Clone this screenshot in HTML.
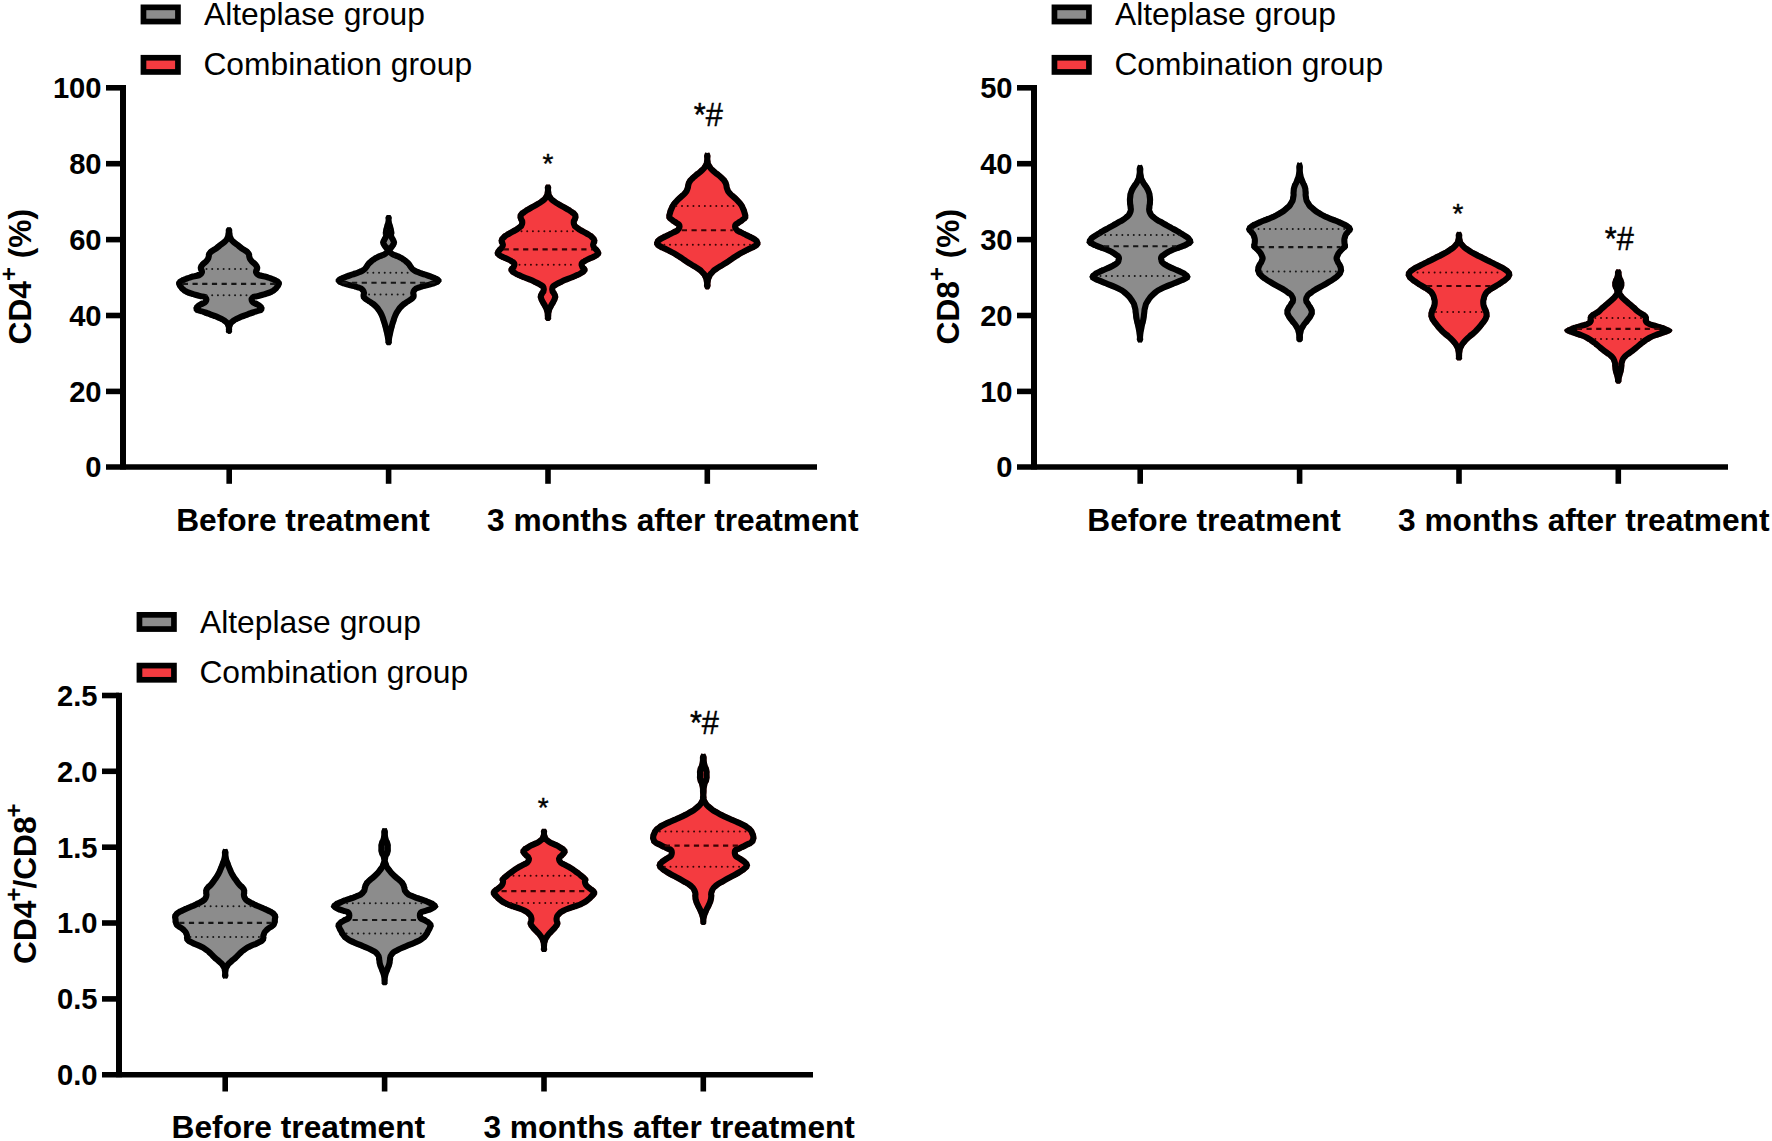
<!DOCTYPE html>
<html><head><meta charset="utf-8"><title>Violin plots</title>
<style>html,body{margin:0;padding:0;background:#fff}svg{display:block}text{font-family:"Liberation Sans",Arial,sans-serif;fill:#000}</style>
</head><body>
<svg width="1772" height="1141" viewBox="0 0 1772 1141">
<rect width="1772" height="1141" fill="#fff"/>
<path d="M123,85.0 V469.6" stroke="#000" stroke-width="6" fill="none"/><path d="M106,467 H817" stroke="#000" stroke-width="5.6" fill="none"/><path d="M106,87.8 H123" stroke="#000" stroke-width="5.6"/><path d="M106,163.7 H123" stroke="#000" stroke-width="5.6"/><path d="M106,239.6 H123" stroke="#000" stroke-width="5.6"/><path d="M106,315.5 H123" stroke="#000" stroke-width="5.6"/><path d="M106,391.4 H123" stroke="#000" stroke-width="5.6"/><path d="M229.2,467 V483.8" stroke="#000" stroke-width="5.6"/><path d="M388.6,467 V483.8" stroke="#000" stroke-width="5.6"/><path d="M548,467 V483.8" stroke="#000" stroke-width="5.6"/><path d="M707.3,467 V483.8" stroke="#000" stroke-width="5.6"/>
<path d="M1034,85.0 V469.6" stroke="#000" stroke-width="6" fill="none"/><path d="M1017,467 H1728" stroke="#000" stroke-width="5.6" fill="none"/><path d="M1017,87.8 H1034" stroke="#000" stroke-width="5.6"/><path d="M1017,163.7 H1034" stroke="#000" stroke-width="5.6"/><path d="M1017,239.6 H1034" stroke="#000" stroke-width="5.6"/><path d="M1017,315.5 H1034" stroke="#000" stroke-width="5.6"/><path d="M1017,391.4 H1034" stroke="#000" stroke-width="5.6"/><path d="M1140.2,467 V483.8" stroke="#000" stroke-width="5.6"/><path d="M1299.6,467 V483.8" stroke="#000" stroke-width="5.6"/><path d="M1459,467 V483.8" stroke="#000" stroke-width="5.6"/><path d="M1618.3,467 V483.8" stroke="#000" stroke-width="5.6"/>
<path d="M119,692.7 V1077.3" stroke="#000" stroke-width="6" fill="none"/><path d="M102,1074.7 H813" stroke="#000" stroke-width="5.6" fill="none"/><path d="M102,695.5 H119" stroke="#000" stroke-width="5.6"/><path d="M102,771.3 H119" stroke="#000" stroke-width="5.6"/><path d="M102,847.2 H119" stroke="#000" stroke-width="5.6"/><path d="M102,923 H119" stroke="#000" stroke-width="5.6"/><path d="M102,998.9 H119" stroke="#000" stroke-width="5.6"/><path d="M225.2,1074.7 V1091.5" stroke="#000" stroke-width="5.6"/><path d="M384.6,1074.7 V1091.5" stroke="#000" stroke-width="5.6"/><path d="M544,1074.7 V1091.5" stroke="#000" stroke-width="5.6"/><path d="M703.3,1074.7 V1091.5" stroke="#000" stroke-width="5.6"/>
<rect x="143.45" y="7.35" width="34.5" height="14.2" fill="#8c8c8c" stroke="#000" stroke-width="5.7"/><rect x="143.45" y="57.75" width="34.5" height="14.2" fill="#f43b40" stroke="#000" stroke-width="5.7"/><text x="204.0" y="24.8" font-size="31.8" font-weight="normal" text-anchor="start" >Alteplase group</text><text x="203.39999999999998" y="75.2" font-size="31.8" font-weight="normal" text-anchor="start" >Combination group</text>
<rect x="1054.4499999999998" y="7.35" width="34.5" height="14.2" fill="#8c8c8c" stroke="#000" stroke-width="5.7"/><rect x="1054.4499999999998" y="57.75" width="34.5" height="14.2" fill="#f43b40" stroke="#000" stroke-width="5.7"/><text x="1115.0" y="24.8" font-size="31.8" font-weight="normal" text-anchor="start" >Alteplase group</text><text x="1114.3999999999999" y="75.2" font-size="31.8" font-weight="normal" text-anchor="start" >Combination group</text>
<rect x="139.45" y="614.85" width="34.5" height="14.2" fill="#8c8c8c" stroke="#000" stroke-width="5.7"/><rect x="139.45" y="665.6" width="34.5" height="14.2" fill="#f43b40" stroke="#000" stroke-width="5.7"/><text x="200.0" y="632.9" font-size="31.8" font-weight="normal" text-anchor="start" >Alteplase group</text><text x="199.39999999999998" y="683.05" font-size="31.8" font-weight="normal" text-anchor="start" >Combination group</text>
<text x="101.6" y="98.1" font-size="29.2" font-weight="bold" text-anchor="end" >100</text><text x="101.6" y="174.0" font-size="29.2" font-weight="bold" text-anchor="end" >80</text><text x="101.6" y="249.9" font-size="29.2" font-weight="bold" text-anchor="end" >60</text><text x="101.6" y="325.8" font-size="29.2" font-weight="bold" text-anchor="end" >40</text><text x="101.6" y="401.7" font-size="29.2" font-weight="bold" text-anchor="end" >20</text><text x="101.6" y="477.3" font-size="29.2" font-weight="bold" text-anchor="end" >0</text>
<text x="1012.6" y="98.1" font-size="29.2" font-weight="bold" text-anchor="end" >50</text><text x="1012.6" y="174.0" font-size="29.2" font-weight="bold" text-anchor="end" >40</text><text x="1012.6" y="249.9" font-size="29.2" font-weight="bold" text-anchor="end" >30</text><text x="1012.6" y="325.8" font-size="29.2" font-weight="bold" text-anchor="end" >20</text><text x="1012.6" y="401.7" font-size="29.2" font-weight="bold" text-anchor="end" >10</text><text x="1012.6" y="477.3" font-size="29.2" font-weight="bold" text-anchor="end" >0</text>
<text x="97.6" y="705.8" font-size="29.2" font-weight="bold" text-anchor="end" >2.5</text><text x="97.6" y="781.5999999999999" font-size="29.2" font-weight="bold" text-anchor="end" >2.0</text><text x="97.6" y="857.5" font-size="29.2" font-weight="bold" text-anchor="end" >1.5</text><text x="97.6" y="933.3" font-size="29.2" font-weight="bold" text-anchor="end" >1.0</text><text x="97.6" y="1009.1999999999999" font-size="29.2" font-weight="bold" text-anchor="end" >0.5</text><text x="97.6" y="1085.0" font-size="29.2" font-weight="bold" text-anchor="end" >0.0</text>
<text x="176.2" y="530.5" font-size="31.7" font-weight="bold" text-anchor="start" >Before treatment</text>
<text x="487" y="530.5" font-size="31.7" font-weight="bold" text-anchor="start" >3 months after treatment</text>
<text x="1087.3" y="530.5" font-size="31.7" font-weight="bold" text-anchor="start" >Before treatment</text>
<text x="1398" y="530.5" font-size="31.7" font-weight="bold" text-anchor="start" >3 months after treatment</text>
<text x="171.6" y="1137.6" font-size="31.7" font-weight="bold" text-anchor="start" >Before treatment</text>
<text x="483.4" y="1137.6" font-size="31.7" font-weight="bold" text-anchor="start" >3 months after treatment</text>
<text transform="translate(31.3,344.5) rotate(-90)" font-size="31.7" font-weight="bold">CD4<tspan dy="-14.3" font-size="24">+</tspan><tspan dy="14.3"> (%)</tspan></text>
<text transform="translate(959,344.5) rotate(-90)" font-size="31.7" font-weight="bold">CD8<tspan dy="-14.3" font-size="24">+</tspan><tspan dy="14.3"> (%)</tspan></text>
<text transform="translate(35.9,964.0) rotate(-90)" font-size="31.7" font-weight="bold">CD4<tspan dy="-14.3" dx="-1" font-size="24">+</tspan><tspan dy="14.3" dx="-1">/CD8</tspan><tspan dy="-14.3" dx="-1" font-size="24">+</tspan></text>
<text x="548" y="173.1" font-size="28" text-anchor="middle" stroke="#000" stroke-width="0.4">*</text>
<text x="708.3" y="126.4" font-size="33.5" text-anchor="middle" textLength="29" lengthAdjust="spacingAndGlyphs" stroke="#000" stroke-width="0.45">*#</text>
<text x="1458.0" y="223.0" font-size="28" text-anchor="middle" stroke="#000" stroke-width="0.4">*</text>
<text x="1619.3" y="250.4" font-size="33.5" text-anchor="middle" textLength="29" lengthAdjust="spacingAndGlyphs" stroke="#000" stroke-width="0.45">*#</text>
<text x="543.3" y="816.9" font-size="28" text-anchor="middle" stroke="#000" stroke-width="0.4">*</text>
<text x="704.4" y="734.0" font-size="33.5" text-anchor="middle" textLength="29" lengthAdjust="spacingAndGlyphs" stroke="#000" stroke-width="0.45">*#</text>
<clipPath id="v1"><path d="M229.0,227.2 C230.8,227.2 230.6,226.7 231.7,228.6 C232.8,230.5 231.9,230.4 232.4,233.0 C232.9,235.6 232.2,234.3 233.2,236.5 C234.2,238.7 233.3,237.5 235.4,239.5 C237.5,241.5 236.8,240.5 239.4,242.6 C242.0,244.7 240.7,243.8 243.3,245.7 C245.9,247.6 245.0,246.6 247.3,248.3 C249.6,250.0 248.8,249.1 250.3,250.9 C251.8,252.7 251.2,251.8 251.9,253.6 C252.6,255.4 251.8,254.6 252.3,256.2 C252.8,257.8 252.3,256.9 253.4,258.4 C254.5,259.9 254.0,259.0 255.6,260.6 C257.2,262.2 256.8,261.4 258.2,263.2 C259.6,265.0 259.1,264.1 259.8,265.9 C260.5,267.7 260.2,267.0 260.2,268.5 C260.2,270.0 259.9,269.3 259.7,270.5 C259.5,271.7 258.5,271.3 259.6,272.1 C260.7,272.9 260.0,272.2 263.0,273.0 C266.0,273.8 264.9,273.2 268.6,274.4 C272.3,275.6 270.9,275.1 274.2,276.5 C277.5,277.9 276.2,277.2 278.4,278.6 C280.6,280.0 279.6,279.2 280.8,280.7 C282.0,282.2 281.8,281.4 281.9,283.1 C282.0,284.8 282.0,284.0 281.2,285.9 C280.4,287.8 280.8,286.8 279.4,288.8 C278.0,290.7 279.2,289.7 277.0,291.6 C274.8,293.5 276.1,292.8 272.8,294.4 C269.5,296.0 270.9,295.2 267.2,296.5 C263.5,297.8 264.9,297.3 261.6,298.2 C258.3,299.1 259.6,298.7 257.4,299.3 C255.1,299.9 254.4,299.3 254.9,300.1 C255.4,300.9 256.3,300.3 258.8,301.7 C261.2,303.1 260.6,302.6 262.3,304.2 C264.1,305.8 263.3,305.0 264.0,306.6 C264.7,308.2 264.7,307.3 264.4,309.1 C264.1,310.9 264.6,310.4 263.0,311.9 C261.4,313.4 262.5,312.4 259.4,313.6 C256.4,314.8 258.0,314.0 253.8,315.4 C249.6,316.8 251.5,316.1 246.8,317.9 C242.1,319.7 243.8,318.8 239.8,320.7 C235.8,322.6 237.3,321.5 234.9,323.5 C232.5,325.5 233.4,324.4 232.5,326.6 C231.6,328.8 232.4,328.1 232.1,330.1 C231.8,332.1 232.7,331.3 231.7,332.6 C230.7,333.9 230.8,334.0 229.0,334.0 C227.2,334.0 227.3,333.9 226.3,332.6 C225.3,331.3 226.2,332.1 225.9,330.1 C225.6,328.1 226.4,328.8 225.5,326.6 C224.6,324.4 225.5,325.5 223.1,323.5 C220.7,321.5 222.2,322.6 218.2,320.7 C214.2,318.8 215.9,319.7 211.2,317.9 C206.5,316.1 208.4,316.8 204.2,315.4 C200.0,314.0 201.6,314.8 198.6,313.6 C195.5,312.4 196.7,313.4 195.0,311.9 C193.3,310.4 193.9,310.9 193.6,309.1 C193.3,307.3 193.3,308.2 194.0,306.6 C194.7,305.0 193.9,305.8 195.7,304.2 C197.4,302.6 196.8,303.1 199.2,301.7 C201.7,300.3 202.6,300.9 203.1,300.1 C203.6,299.3 202.9,299.9 200.7,299.3 C198.4,298.7 199.7,299.1 196.4,298.2 C193.1,297.3 194.5,297.8 190.8,296.5 C187.1,295.2 188.5,296.0 185.2,294.4 C181.9,292.8 183.2,293.5 181.0,291.6 C178.8,289.7 180.0,290.7 178.6,288.8 C177.2,286.8 177.6,287.8 176.8,285.9 C176.0,284.0 176.0,284.8 176.1,283.1 C176.2,281.4 176.0,282.2 177.2,280.7 C178.4,279.2 177.4,280.0 179.6,278.6 C181.8,277.2 180.5,277.9 183.8,276.5 C187.1,275.1 185.7,275.6 189.4,274.4 C193.1,273.2 192.0,273.8 195.0,273.0 C198.0,272.2 197.3,272.9 198.4,272.1 C199.5,271.3 198.5,271.7 198.3,270.5 C198.1,269.3 197.8,270.0 197.8,268.5 C197.8,267.0 197.5,267.7 198.2,265.9 C198.9,264.1 198.4,265.0 199.8,263.2 C201.2,261.4 200.8,262.2 202.4,260.6 C204.0,259.0 203.5,259.9 204.6,258.4 C205.7,256.9 205.2,257.8 205.7,256.2 C206.2,254.6 205.4,255.4 206.1,253.6 C206.8,251.8 206.2,252.7 207.7,250.9 C209.2,249.1 208.4,250.0 210.7,248.3 C213.0,246.6 212.1,247.6 214.7,245.7 C217.3,243.8 216.0,244.7 218.6,242.6 C221.2,240.5 220.5,241.5 222.6,239.5 C224.7,237.5 223.8,238.7 224.8,236.5 C225.8,234.3 225.1,235.6 225.6,233.0 C226.1,230.4 225.2,230.5 226.3,228.6 C227.4,226.7 227.2,227.2 229.0,227.2Z"/></clipPath><path d="M229.0,227.2 C230.8,227.2 230.6,226.7 231.7,228.6 C232.8,230.5 231.9,230.4 232.4,233.0 C232.9,235.6 232.2,234.3 233.2,236.5 C234.2,238.7 233.3,237.5 235.4,239.5 C237.5,241.5 236.8,240.5 239.4,242.6 C242.0,244.7 240.7,243.8 243.3,245.7 C245.9,247.6 245.0,246.6 247.3,248.3 C249.6,250.0 248.8,249.1 250.3,250.9 C251.8,252.7 251.2,251.8 251.9,253.6 C252.6,255.4 251.8,254.6 252.3,256.2 C252.8,257.8 252.3,256.9 253.4,258.4 C254.5,259.9 254.0,259.0 255.6,260.6 C257.2,262.2 256.8,261.4 258.2,263.2 C259.6,265.0 259.1,264.1 259.8,265.9 C260.5,267.7 260.2,267.0 260.2,268.5 C260.2,270.0 259.9,269.3 259.7,270.5 C259.5,271.7 258.5,271.3 259.6,272.1 C260.7,272.9 260.0,272.2 263.0,273.0 C266.0,273.8 264.9,273.2 268.6,274.4 C272.3,275.6 270.9,275.1 274.2,276.5 C277.5,277.9 276.2,277.2 278.4,278.6 C280.6,280.0 279.6,279.2 280.8,280.7 C282.0,282.2 281.8,281.4 281.9,283.1 C282.0,284.8 282.0,284.0 281.2,285.9 C280.4,287.8 280.8,286.8 279.4,288.8 C278.0,290.7 279.2,289.7 277.0,291.6 C274.8,293.5 276.1,292.8 272.8,294.4 C269.5,296.0 270.9,295.2 267.2,296.5 C263.5,297.8 264.9,297.3 261.6,298.2 C258.3,299.1 259.6,298.7 257.4,299.3 C255.1,299.9 254.4,299.3 254.9,300.1 C255.4,300.9 256.3,300.3 258.8,301.7 C261.2,303.1 260.6,302.6 262.3,304.2 C264.1,305.8 263.3,305.0 264.0,306.6 C264.7,308.2 264.7,307.3 264.4,309.1 C264.1,310.9 264.6,310.4 263.0,311.9 C261.4,313.4 262.5,312.4 259.4,313.6 C256.4,314.8 258.0,314.0 253.8,315.4 C249.6,316.8 251.5,316.1 246.8,317.9 C242.1,319.7 243.8,318.8 239.8,320.7 C235.8,322.6 237.3,321.5 234.9,323.5 C232.5,325.5 233.4,324.4 232.5,326.6 C231.6,328.8 232.4,328.1 232.1,330.1 C231.8,332.1 232.7,331.3 231.7,332.6 C230.7,333.9 230.8,334.0 229.0,334.0 C227.2,334.0 227.3,333.9 226.3,332.6 C225.3,331.3 226.2,332.1 225.9,330.1 C225.6,328.1 226.4,328.8 225.5,326.6 C224.6,324.4 225.5,325.5 223.1,323.5 C220.7,321.5 222.2,322.6 218.2,320.7 C214.2,318.8 215.9,319.7 211.2,317.9 C206.5,316.1 208.4,316.8 204.2,315.4 C200.0,314.0 201.6,314.8 198.6,313.6 C195.5,312.4 196.7,313.4 195.0,311.9 C193.3,310.4 193.9,310.9 193.6,309.1 C193.3,307.3 193.3,308.2 194.0,306.6 C194.7,305.0 193.9,305.8 195.7,304.2 C197.4,302.6 196.8,303.1 199.2,301.7 C201.7,300.3 202.6,300.9 203.1,300.1 C203.6,299.3 202.9,299.9 200.7,299.3 C198.4,298.7 199.7,299.1 196.4,298.2 C193.1,297.3 194.5,297.8 190.8,296.5 C187.1,295.2 188.5,296.0 185.2,294.4 C181.9,292.8 183.2,293.5 181.0,291.6 C178.8,289.7 180.0,290.7 178.6,288.8 C177.2,286.8 177.6,287.8 176.8,285.9 C176.0,284.0 176.0,284.8 176.1,283.1 C176.2,281.4 176.0,282.2 177.2,280.7 C178.4,279.2 177.4,280.0 179.6,278.6 C181.8,277.2 180.5,277.9 183.8,276.5 C187.1,275.1 185.7,275.6 189.4,274.4 C193.1,273.2 192.0,273.8 195.0,273.0 C198.0,272.2 197.3,272.9 198.4,272.1 C199.5,271.3 198.5,271.7 198.3,270.5 C198.1,269.3 197.8,270.0 197.8,268.5 C197.8,267.0 197.5,267.7 198.2,265.9 C198.9,264.1 198.4,265.0 199.8,263.2 C201.2,261.4 200.8,262.2 202.4,260.6 C204.0,259.0 203.5,259.9 204.6,258.4 C205.7,256.9 205.2,257.8 205.7,256.2 C206.2,254.6 205.4,255.4 206.1,253.6 C206.8,251.8 206.2,252.7 207.7,250.9 C209.2,249.1 208.4,250.0 210.7,248.3 C213.0,246.6 212.1,247.6 214.7,245.7 C217.3,243.8 216.0,244.7 218.6,242.6 C221.2,240.5 220.5,241.5 222.6,239.5 C224.7,237.5 223.8,238.7 224.8,236.5 C225.8,234.3 225.1,235.6 225.6,233.0 C226.1,230.4 225.2,230.5 226.3,228.6 C227.4,226.7 227.2,227.2 229.0,227.2Z" fill="#8c8c8c" stroke="#000" stroke-width="12.2" stroke-linejoin="round" clip-path="url(#v1)"/><path d="M206.5,268.9 H251.5" stroke="#161616" stroke-width="2.0" stroke-dasharray="0.01,5.7" stroke-linecap="round" fill="none"/><path d="M182.8,283.9 H275.2" stroke="#161616" stroke-width="2.1" stroke-dasharray="5.2,4.5" fill="none"/><path d="M206.5,295.2 H251.5" stroke="#161616" stroke-width="2.0" stroke-dasharray="0.01,5.7" stroke-linecap="round" fill="none"/>
<clipPath id="v2"><path d="M388.6,215.1 C390.4,215.1 390.3,214.6 391.4,216.6 C392.4,218.6 391.1,218.2 391.7,221.2 C392.2,224.2 392.1,222.4 392.9,225.5 C393.7,228.6 393.6,227.7 394.1,230.4 C394.6,233.1 394.4,231.9 394.4,233.5 C394.4,235.1 393.7,233.7 394.1,235.3 C394.5,236.9 394.7,236.4 395.7,238.4 C396.6,240.4 396.5,239.8 396.9,241.4 C397.3,243.0 397.3,241.6 396.9,243.3 C396.5,245.0 396.8,244.4 395.7,246.4 C394.5,248.4 394.4,248.0 393.5,249.4 C392.6,250.8 392.0,249.7 392.9,250.7 C393.8,251.7 393.7,251.3 396.3,252.5 C398.9,253.7 397.7,252.9 400.6,254.3 C403.5,255.7 402.3,255.1 404.9,256.8 C407.5,258.5 406.4,257.7 408.5,259.5 C410.6,261.3 409.7,260.3 411.3,262.3 C412.9,264.3 411.9,263.6 413.4,265.4 C414.9,267.2 413.6,266.4 415.9,267.8 C418.2,269.2 416.7,268.4 420.2,269.7 C423.7,271.0 422.2,270.4 426.3,271.8 C430.4,273.2 428.8,272.6 432.5,274.0 C436.2,275.4 434.8,274.7 437.4,276.1 C440.0,277.5 439.0,276.9 440.4,278.3 C441.8,279.7 441.4,278.9 441.5,280.3 C441.6,281.7 442.1,280.8 440.7,282.4 C439.3,284.0 440.6,283.5 437.4,285.1 C434.2,286.7 435.3,286.1 431.2,287.3 C427.1,288.5 428.8,287.8 425.1,288.8 C421.4,289.8 423.0,289.3 420.2,290.3 C417.4,291.3 418.0,290.5 416.8,291.9 C415.6,293.3 416.7,292.9 416.6,294.6 C416.5,296.3 416.9,295.5 416.5,297.1 C416.1,298.7 416.9,297.7 415.3,299.5 C413.7,301.3 414.3,300.6 411.6,302.6 C408.9,304.6 410.0,303.5 407.3,305.4 C404.6,307.3 405.7,306.3 403.6,308.4 C401.5,310.5 402.6,309.2 400.9,311.8 C399.2,314.4 399.8,313.0 398.4,316.1 C397.0,319.2 397.8,317.3 396.6,321.0 C395.4,324.7 395.8,323.1 394.7,327.2 C393.6,331.3 394.1,329.2 393.2,333.3 C392.3,337.4 392.6,335.9 392.0,339.4 C391.4,342.9 392.5,341.8 391.4,343.7 C390.2,345.6 390.4,345.2 388.6,345.2 C386.8,345.2 387.0,345.6 385.9,343.7 C384.7,341.8 385.8,342.9 385.2,339.4 C384.6,335.9 384.9,337.4 384.0,333.3 C383.1,329.2 383.6,331.3 382.5,327.2 C381.4,323.1 381.8,324.7 380.6,321.0 C379.4,317.3 380.2,319.2 378.8,316.1 C377.4,313.0 378.0,314.4 376.3,311.8 C374.6,309.2 375.7,310.5 373.6,308.4 C371.5,306.3 372.6,307.3 369.9,305.4 C367.2,303.5 368.3,304.6 365.6,302.6 C362.9,300.6 363.5,301.3 361.9,299.5 C360.3,297.7 361.1,298.7 360.7,297.1 C360.3,295.5 360.7,296.3 360.6,294.6 C360.5,292.9 361.6,293.3 360.4,291.9 C359.2,290.5 359.8,291.3 357.0,290.3 C354.2,289.3 355.8,289.8 352.1,288.8 C348.4,287.8 350.1,288.5 346.0,287.3 C341.9,286.1 343.0,286.7 339.8,285.1 C336.6,283.5 337.9,284.0 336.5,282.4 C335.1,280.8 335.6,281.7 335.7,280.3 C335.8,278.9 335.4,279.7 336.8,278.3 C338.2,276.9 337.2,277.5 339.8,276.1 C342.4,274.7 341.0,275.4 344.7,274.0 C348.4,272.6 346.8,273.2 350.9,271.8 C355.0,270.4 353.5,271.0 357.0,269.7 C360.5,268.4 359.0,269.2 361.3,267.8 C363.6,266.4 362.3,267.2 363.8,265.4 C365.3,263.6 364.3,264.3 365.9,262.3 C367.5,260.3 366.6,261.3 368.7,259.5 C370.8,257.7 369.7,258.5 372.3,256.8 C374.9,255.1 373.7,255.7 376.6,254.3 C379.5,252.9 378.3,253.7 380.9,252.5 C383.5,251.3 383.4,251.7 384.3,250.7 C385.2,249.7 384.6,250.8 383.7,249.4 C382.8,248.0 382.7,248.4 381.6,246.4 C380.4,244.4 380.7,245.0 380.3,243.3 C379.9,241.6 379.9,243.0 380.3,241.4 C380.7,239.8 380.6,240.4 381.6,238.4 C382.5,236.4 382.7,236.9 383.1,235.3 C383.5,233.7 382.8,235.1 382.8,233.5 C382.8,231.9 382.6,233.1 383.1,230.4 C383.6,227.7 383.5,228.6 384.3,225.5 C385.1,222.4 385.0,224.2 385.5,221.2 C386.1,218.2 384.8,218.6 385.9,216.6 C386.9,214.6 386.8,215.1 388.6,215.1Z"/></clipPath><path d="M388.6,215.1 C390.4,215.1 390.3,214.6 391.4,216.6 C392.4,218.6 391.1,218.2 391.7,221.2 C392.2,224.2 392.1,222.4 392.9,225.5 C393.7,228.6 393.6,227.7 394.1,230.4 C394.6,233.1 394.4,231.9 394.4,233.5 C394.4,235.1 393.7,233.7 394.1,235.3 C394.5,236.9 394.7,236.4 395.7,238.4 C396.6,240.4 396.5,239.8 396.9,241.4 C397.3,243.0 397.3,241.6 396.9,243.3 C396.5,245.0 396.8,244.4 395.7,246.4 C394.5,248.4 394.4,248.0 393.5,249.4 C392.6,250.8 392.0,249.7 392.9,250.7 C393.8,251.7 393.7,251.3 396.3,252.5 C398.9,253.7 397.7,252.9 400.6,254.3 C403.5,255.7 402.3,255.1 404.9,256.8 C407.5,258.5 406.4,257.7 408.5,259.5 C410.6,261.3 409.7,260.3 411.3,262.3 C412.9,264.3 411.9,263.6 413.4,265.4 C414.9,267.2 413.6,266.4 415.9,267.8 C418.2,269.2 416.7,268.4 420.2,269.7 C423.7,271.0 422.2,270.4 426.3,271.8 C430.4,273.2 428.8,272.6 432.5,274.0 C436.2,275.4 434.8,274.7 437.4,276.1 C440.0,277.5 439.0,276.9 440.4,278.3 C441.8,279.7 441.4,278.9 441.5,280.3 C441.6,281.7 442.1,280.8 440.7,282.4 C439.3,284.0 440.6,283.5 437.4,285.1 C434.2,286.7 435.3,286.1 431.2,287.3 C427.1,288.5 428.8,287.8 425.1,288.8 C421.4,289.8 423.0,289.3 420.2,290.3 C417.4,291.3 418.0,290.5 416.8,291.9 C415.6,293.3 416.7,292.9 416.6,294.6 C416.5,296.3 416.9,295.5 416.5,297.1 C416.1,298.7 416.9,297.7 415.3,299.5 C413.7,301.3 414.3,300.6 411.6,302.6 C408.9,304.6 410.0,303.5 407.3,305.4 C404.6,307.3 405.7,306.3 403.6,308.4 C401.5,310.5 402.6,309.2 400.9,311.8 C399.2,314.4 399.8,313.0 398.4,316.1 C397.0,319.2 397.8,317.3 396.6,321.0 C395.4,324.7 395.8,323.1 394.7,327.2 C393.6,331.3 394.1,329.2 393.2,333.3 C392.3,337.4 392.6,335.9 392.0,339.4 C391.4,342.9 392.5,341.8 391.4,343.7 C390.2,345.6 390.4,345.2 388.6,345.2 C386.8,345.2 387.0,345.6 385.9,343.7 C384.7,341.8 385.8,342.9 385.2,339.4 C384.6,335.9 384.9,337.4 384.0,333.3 C383.1,329.2 383.6,331.3 382.5,327.2 C381.4,323.1 381.8,324.7 380.6,321.0 C379.4,317.3 380.2,319.2 378.8,316.1 C377.4,313.0 378.0,314.4 376.3,311.8 C374.6,309.2 375.7,310.5 373.6,308.4 C371.5,306.3 372.6,307.3 369.9,305.4 C367.2,303.5 368.3,304.6 365.6,302.6 C362.9,300.6 363.5,301.3 361.9,299.5 C360.3,297.7 361.1,298.7 360.7,297.1 C360.3,295.5 360.7,296.3 360.6,294.6 C360.5,292.9 361.6,293.3 360.4,291.9 C359.2,290.5 359.8,291.3 357.0,290.3 C354.2,289.3 355.8,289.8 352.1,288.8 C348.4,287.8 350.1,288.5 346.0,287.3 C341.9,286.1 343.0,286.7 339.8,285.1 C336.6,283.5 337.9,284.0 336.5,282.4 C335.1,280.8 335.6,281.7 335.7,280.3 C335.8,278.9 335.4,279.7 336.8,278.3 C338.2,276.9 337.2,277.5 339.8,276.1 C342.4,274.7 341.0,275.4 344.7,274.0 C348.4,272.6 346.8,273.2 350.9,271.8 C355.0,270.4 353.5,271.0 357.0,269.7 C360.5,268.4 359.0,269.2 361.3,267.8 C363.6,266.4 362.3,267.2 363.8,265.4 C365.3,263.6 364.3,264.3 365.9,262.3 C367.5,260.3 366.6,261.3 368.7,259.5 C370.8,257.7 369.7,258.5 372.3,256.8 C374.9,255.1 373.7,255.7 376.6,254.3 C379.5,252.9 378.3,253.7 380.9,252.5 C383.5,251.3 383.4,251.7 384.3,250.7 C385.2,249.7 384.6,250.8 383.7,249.4 C382.8,248.0 382.7,248.4 381.6,246.4 C380.4,244.4 380.7,245.0 380.3,243.3 C379.9,241.6 379.9,243.0 380.3,241.4 C380.7,239.8 380.6,240.4 381.6,238.4 C382.5,236.4 382.7,236.9 383.1,235.3 C383.5,233.7 382.8,235.1 382.8,233.5 C382.8,231.9 382.6,233.1 383.1,230.4 C383.6,227.7 383.5,228.6 384.3,225.5 C385.1,222.4 385.0,224.2 385.5,221.2 C386.1,218.2 384.8,218.6 385.9,216.6 C386.9,214.6 386.8,215.1 388.6,215.1Z" fill="#8c8c8c" stroke="#000" stroke-width="12.2" stroke-linejoin="round" clip-path="url(#v2)"/><path d="M367.6,272.8 H409.6" stroke="#161616" stroke-width="2.0" stroke-dasharray="0.01,5.7" stroke-linecap="round" fill="none"/><path d="M342.3,282.7 H434.9" stroke="#161616" stroke-width="2.1" stroke-dasharray="5.2,4.5" fill="none"/><path d="M369.1,294.4 H408.1" stroke="#161616" stroke-width="2.0" stroke-dasharray="0.01,5.7" stroke-linecap="round" fill="none"/>
<clipPath id="v3"><path d="M548.0,184.6 C549.9,184.6 549.7,183.8 550.8,186.0 C551.9,188.2 550.6,188.1 551.2,191.2 C551.8,194.3 550.9,192.8 552.5,195.4 C554.1,198.0 553.0,196.6 556.0,198.9 C559.0,201.2 557.6,200.1 561.6,202.4 C565.6,204.7 563.9,203.5 567.9,205.9 C571.9,208.3 570.5,207.3 573.5,209.5 C576.5,211.7 575.4,210.3 577.0,212.6 C578.7,214.9 578.2,214.0 578.5,216.5 C578.7,219.0 578.3,217.8 577.8,220.0 C577.2,222.2 576.4,221.2 576.9,223.1 C577.4,225.0 576.6,223.6 579.2,225.6 C581.8,227.6 581.1,226.9 584.8,229.1 C588.5,231.3 587.1,230.1 590.4,232.2 C593.7,234.3 592.4,233.2 594.6,235.4 C596.8,237.6 596.1,236.6 597.0,238.9 C597.9,241.2 597.4,240.3 597.2,242.4 C597.0,244.5 595.8,243.3 596.3,245.2 C596.8,247.1 597.3,245.9 598.8,248.0 C600.3,250.1 600.1,249.5 600.9,251.5 C601.7,253.5 601.6,252.4 601.2,254.0 C600.8,255.6 601.5,254.6 599.8,256.3 C598.1,258.0 599.1,257.3 596.0,259.1 C592.9,260.9 593.7,260.1 590.4,261.6 C587.1,263.1 588.1,262.5 586.2,263.7 C584.3,264.9 584.6,263.8 584.8,265.1 C585.0,266.4 586.0,265.9 586.9,267.5 C587.8,269.1 587.7,268.4 587.6,270.0 C587.5,271.6 588.1,270.5 586.5,272.4 C584.9,274.3 586.1,273.5 582.7,275.6 C579.3,277.7 580.8,276.8 576.4,278.8 C571.9,280.8 574.0,279.6 569.3,281.6 C564.6,283.6 566.3,282.8 562.3,284.7 C558.3,286.6 559.7,285.7 557.4,287.2 C555.1,288.7 555.5,287.7 555.3,289.3 C555.1,290.9 555.8,290.0 556.7,292.1 C557.6,294.2 557.7,293.3 558.1,295.6 C558.5,297.9 558.5,296.5 557.8,299.1 C557.1,301.7 557.4,300.5 556.0,303.3 C554.6,306.1 555.0,304.7 553.6,307.5 C552.2,310.3 552.6,308.7 551.8,311.7 C551.0,314.7 551.5,314.0 551.2,316.6 C550.9,319.2 551.9,318.0 550.8,319.4 C549.7,320.8 549.9,320.9 548.0,320.9 C546.1,320.9 546.3,320.8 545.2,319.4 C544.1,318.0 545.1,319.2 544.8,316.6 C544.5,314.0 545.0,314.7 544.2,311.7 C543.4,308.7 543.8,310.3 542.4,307.5 C541.0,304.7 541.4,306.1 540.0,303.3 C538.6,300.5 538.9,301.7 538.2,299.1 C537.5,296.5 537.5,297.9 537.9,295.6 C538.3,293.3 538.4,294.2 539.3,292.1 C540.2,290.0 540.9,290.9 540.7,289.3 C540.5,287.7 540.9,288.7 538.6,287.2 C536.3,285.7 537.7,286.6 533.7,284.7 C529.7,282.8 531.4,283.6 526.7,281.6 C522.0,279.6 524.1,280.8 519.6,278.8 C515.2,276.8 516.7,277.7 513.3,275.6 C509.9,273.5 511.1,274.3 509.5,272.4 C507.9,270.5 508.5,271.6 508.4,270.0 C508.3,268.4 508.2,269.1 509.1,267.5 C510.0,265.9 511.0,266.4 511.2,265.1 C511.4,263.8 511.7,264.9 509.8,263.7 C507.9,262.5 508.9,263.1 505.6,261.6 C502.3,260.1 503.1,260.9 500.0,259.1 C496.9,257.3 497.9,258.0 496.2,256.3 C494.5,254.6 495.2,255.6 494.8,254.0 C494.4,252.4 494.3,253.5 495.1,251.5 C495.9,249.5 495.7,250.1 497.2,248.0 C498.7,245.9 499.2,247.1 499.7,245.2 C500.2,243.3 499.0,244.5 498.8,242.4 C498.6,240.3 498.1,241.2 499.0,238.9 C499.9,236.6 499.2,237.6 501.4,235.4 C503.6,233.2 502.3,234.3 505.6,232.2 C508.9,230.1 507.5,231.3 511.2,229.1 C514.9,226.9 514.2,227.6 516.8,225.6 C519.4,223.6 518.6,225.0 519.1,223.1 C519.6,221.2 518.8,222.2 518.2,220.0 C517.7,217.8 517.3,219.0 517.5,216.5 C517.8,214.0 517.3,214.9 519.0,212.6 C520.6,210.3 519.5,211.7 522.5,209.5 C525.5,207.3 524.1,208.3 528.1,205.9 C532.1,203.5 530.4,204.7 534.4,202.4 C538.4,200.1 537.0,201.2 540.0,198.9 C543.0,196.6 541.9,198.0 543.5,195.4 C545.1,192.8 544.2,194.3 544.8,191.2 C545.4,188.1 544.1,188.2 545.2,186.0 C546.3,183.8 546.1,184.6 548.0,184.6Z"/></clipPath><path d="M548.0,184.6 C549.9,184.6 549.7,183.8 550.8,186.0 C551.9,188.2 550.6,188.1 551.2,191.2 C551.8,194.3 550.9,192.8 552.5,195.4 C554.1,198.0 553.0,196.6 556.0,198.9 C559.0,201.2 557.6,200.1 561.6,202.4 C565.6,204.7 563.9,203.5 567.9,205.9 C571.9,208.3 570.5,207.3 573.5,209.5 C576.5,211.7 575.4,210.3 577.0,212.6 C578.7,214.9 578.2,214.0 578.5,216.5 C578.7,219.0 578.3,217.8 577.8,220.0 C577.2,222.2 576.4,221.2 576.9,223.1 C577.4,225.0 576.6,223.6 579.2,225.6 C581.8,227.6 581.1,226.9 584.8,229.1 C588.5,231.3 587.1,230.1 590.4,232.2 C593.7,234.3 592.4,233.2 594.6,235.4 C596.8,237.6 596.1,236.6 597.0,238.9 C597.9,241.2 597.4,240.3 597.2,242.4 C597.0,244.5 595.8,243.3 596.3,245.2 C596.8,247.1 597.3,245.9 598.8,248.0 C600.3,250.1 600.1,249.5 600.9,251.5 C601.7,253.5 601.6,252.4 601.2,254.0 C600.8,255.6 601.5,254.6 599.8,256.3 C598.1,258.0 599.1,257.3 596.0,259.1 C592.9,260.9 593.7,260.1 590.4,261.6 C587.1,263.1 588.1,262.5 586.2,263.7 C584.3,264.9 584.6,263.8 584.8,265.1 C585.0,266.4 586.0,265.9 586.9,267.5 C587.8,269.1 587.7,268.4 587.6,270.0 C587.5,271.6 588.1,270.5 586.5,272.4 C584.9,274.3 586.1,273.5 582.7,275.6 C579.3,277.7 580.8,276.8 576.4,278.8 C571.9,280.8 574.0,279.6 569.3,281.6 C564.6,283.6 566.3,282.8 562.3,284.7 C558.3,286.6 559.7,285.7 557.4,287.2 C555.1,288.7 555.5,287.7 555.3,289.3 C555.1,290.9 555.8,290.0 556.7,292.1 C557.6,294.2 557.7,293.3 558.1,295.6 C558.5,297.9 558.5,296.5 557.8,299.1 C557.1,301.7 557.4,300.5 556.0,303.3 C554.6,306.1 555.0,304.7 553.6,307.5 C552.2,310.3 552.6,308.7 551.8,311.7 C551.0,314.7 551.5,314.0 551.2,316.6 C550.9,319.2 551.9,318.0 550.8,319.4 C549.7,320.8 549.9,320.9 548.0,320.9 C546.1,320.9 546.3,320.8 545.2,319.4 C544.1,318.0 545.1,319.2 544.8,316.6 C544.5,314.0 545.0,314.7 544.2,311.7 C543.4,308.7 543.8,310.3 542.4,307.5 C541.0,304.7 541.4,306.1 540.0,303.3 C538.6,300.5 538.9,301.7 538.2,299.1 C537.5,296.5 537.5,297.9 537.9,295.6 C538.3,293.3 538.4,294.2 539.3,292.1 C540.2,290.0 540.9,290.9 540.7,289.3 C540.5,287.7 540.9,288.7 538.6,287.2 C536.3,285.7 537.7,286.6 533.7,284.7 C529.7,282.8 531.4,283.6 526.7,281.6 C522.0,279.6 524.1,280.8 519.6,278.8 C515.2,276.8 516.7,277.7 513.3,275.6 C509.9,273.5 511.1,274.3 509.5,272.4 C507.9,270.5 508.5,271.6 508.4,270.0 C508.3,268.4 508.2,269.1 509.1,267.5 C510.0,265.9 511.0,266.4 511.2,265.1 C511.4,263.8 511.7,264.9 509.8,263.7 C507.9,262.5 508.9,263.1 505.6,261.6 C502.3,260.1 503.1,260.9 500.0,259.1 C496.9,257.3 497.9,258.0 496.2,256.3 C494.5,254.6 495.2,255.6 494.8,254.0 C494.4,252.4 494.3,253.5 495.1,251.5 C495.9,249.5 495.7,250.1 497.2,248.0 C498.7,245.9 499.2,247.1 499.7,245.2 C500.2,243.3 499.0,244.5 498.8,242.4 C498.6,240.3 498.1,241.2 499.0,238.9 C499.9,236.6 499.2,237.6 501.4,235.4 C503.6,233.2 502.3,234.3 505.6,232.2 C508.9,230.1 507.5,231.3 511.2,229.1 C514.9,226.9 514.2,227.6 516.8,225.6 C519.4,223.6 518.6,225.0 519.1,223.1 C519.6,221.2 518.8,222.2 518.2,220.0 C517.7,217.8 517.3,219.0 517.5,216.5 C517.8,214.0 517.3,214.9 519.0,212.6 C520.6,210.3 519.5,211.7 522.5,209.5 C525.5,207.3 524.1,208.3 528.1,205.9 C532.1,203.5 530.4,204.7 534.4,202.4 C538.4,200.1 537.0,201.2 540.0,198.9 C543.0,196.6 541.9,198.0 543.5,195.4 C545.1,192.8 544.2,194.3 544.8,191.2 C545.4,188.1 544.1,188.2 545.2,186.0 C546.3,183.8 546.1,184.6 548.0,184.6Z" fill="#f43b40" stroke="#000" stroke-width="12.2" stroke-linejoin="round" clip-path="url(#v3)"/><path d="M521.5,231.2 H574.5" stroke="#3a0404" stroke-width="2.0" stroke-dasharray="0.01,5.7" stroke-linecap="round" fill="none"/><path d="M503.7,249.4 H592.3" stroke="#3a0404" stroke-width="2.1" stroke-dasharray="5.2,4.5" fill="none"/><path d="M519.5,264.7 H576.5" stroke="#3a0404" stroke-width="2.0" stroke-dasharray="0.01,5.7" stroke-linecap="round" fill="none"/>
<clipPath id="v4"><path d="M707.3,152.9 C709.2,152.9 709.0,151.7 710.1,154.3 C711.2,156.9 709.9,157.1 710.5,160.6 C711.1,164.1 710.2,162.0 711.9,164.8 C713.6,167.6 712.8,166.3 715.7,169.0 C718.6,171.7 717.5,170.3 720.6,172.9 C723.6,175.5 722.5,174.3 724.8,176.8 C727.2,179.2 726.2,178.0 727.6,180.3 C729.1,182.7 728.3,181.2 729.1,183.8 C729.9,186.4 729.1,185.4 730.1,188.0 C731.1,190.6 730.2,189.2 732.2,191.5 C734.2,193.8 733.4,192.4 736.1,195.0 C738.8,197.6 737.7,196.4 740.3,199.2 C742.9,202.0 741.9,200.6 743.8,203.4 C745.7,206.2 744.6,204.6 745.9,207.6 C747.2,210.6 746.8,209.5 747.6,212.5 C748.4,215.5 748.4,214.1 748.3,216.5 C748.2,218.9 748.9,217.5 747.4,219.6 C745.9,221.7 746.3,220.7 743.8,222.7 C741.3,224.7 741.7,224.0 739.9,225.5 C738.1,227.0 737.7,225.9 738.5,227.3 C739.3,228.7 739.2,228.0 742.4,229.7 C745.6,231.4 744.3,230.6 748.0,232.5 C751.7,234.4 750.3,233.4 753.6,235.3 C756.9,237.2 755.7,236.2 757.8,238.1 C759.9,240.0 759.0,239.1 759.9,240.9 C760.8,242.7 760.6,241.7 760.5,243.4 C760.4,245.1 761.0,244.1 759.6,245.9 C758.2,247.7 759.3,246.8 756.4,248.7 C753.5,250.6 754.5,249.6 750.8,251.5 C747.1,253.4 748.9,252.3 745.2,254.3 C741.5,256.3 743.1,255.3 739.6,257.4 C736.1,259.5 738.0,258.4 734.7,260.6 C731.4,262.8 733.3,261.8 729.8,264.1 C726.3,266.4 727.9,265.3 724.1,267.6 C720.3,269.9 721.8,268.8 718.5,271.1 C715.2,273.4 716.5,272.3 714.3,274.6 C712.1,276.9 713.1,275.5 711.9,278.1 C710.7,280.7 711.3,279.3 710.7,282.3 C710.1,285.3 711.3,284.8 710.2,287.2 C709.1,289.6 709.2,289.4 707.3,289.4 C705.4,289.4 705.5,289.6 704.4,287.2 C703.3,284.8 704.5,285.3 703.9,282.3 C703.3,279.3 703.9,280.7 702.7,278.1 C701.5,275.5 702.5,276.9 700.3,274.6 C698.1,272.3 699.4,273.4 696.1,271.1 C692.8,268.8 694.3,269.9 690.5,267.6 C686.7,265.3 688.3,266.4 684.8,264.1 C681.3,261.8 683.2,262.8 679.9,260.6 C676.6,258.4 678.5,259.5 675.0,257.4 C671.5,255.3 673.1,256.3 669.4,254.3 C665.7,252.3 667.5,253.4 663.8,251.5 C660.1,249.6 661.1,250.6 658.2,248.7 C655.3,246.8 656.4,247.7 655.0,245.9 C653.6,244.1 654.2,245.1 654.1,243.4 C654.0,241.7 653.8,242.7 654.7,240.9 C655.6,239.1 654.7,240.0 656.8,238.1 C658.9,236.2 657.7,237.2 661.0,235.3 C664.3,233.4 662.9,234.4 666.6,232.5 C670.3,230.6 669.0,231.4 672.2,229.7 C675.4,228.0 675.3,228.7 676.1,227.3 C676.9,225.9 676.5,227.0 674.7,225.5 C672.9,224.0 673.3,224.7 670.8,222.7 C668.3,220.7 668.7,221.7 667.2,219.6 C665.7,217.5 666.4,218.9 666.3,216.5 C666.2,214.1 666.2,215.5 667.0,212.5 C667.8,209.5 667.4,210.6 668.7,207.6 C670.0,204.6 668.9,206.2 670.8,203.4 C672.7,200.6 671.7,202.0 674.3,199.2 C676.9,196.4 675.8,197.6 678.5,195.0 C681.2,192.4 680.4,193.8 682.4,191.5 C684.4,189.2 683.5,190.6 684.5,188.0 C685.5,185.4 684.7,186.4 685.5,183.8 C686.3,181.2 685.5,182.7 686.9,180.3 C688.4,178.0 687.4,179.2 689.8,176.8 C692.1,174.3 691.0,175.5 694.0,172.9 C697.0,170.3 696.0,171.7 698.9,169.0 C701.8,166.3 701.0,167.6 702.7,164.8 C704.4,162.0 703.5,164.1 704.1,160.6 C704.7,157.1 703.4,156.9 704.5,154.3 C705.6,151.7 705.4,152.9 707.3,152.9Z"/></clipPath><path d="M707.3,152.9 C709.2,152.9 709.0,151.7 710.1,154.3 C711.2,156.9 709.9,157.1 710.5,160.6 C711.1,164.1 710.2,162.0 711.9,164.8 C713.6,167.6 712.8,166.3 715.7,169.0 C718.6,171.7 717.5,170.3 720.6,172.9 C723.6,175.5 722.5,174.3 724.8,176.8 C727.2,179.2 726.2,178.0 727.6,180.3 C729.1,182.7 728.3,181.2 729.1,183.8 C729.9,186.4 729.1,185.4 730.1,188.0 C731.1,190.6 730.2,189.2 732.2,191.5 C734.2,193.8 733.4,192.4 736.1,195.0 C738.8,197.6 737.7,196.4 740.3,199.2 C742.9,202.0 741.9,200.6 743.8,203.4 C745.7,206.2 744.6,204.6 745.9,207.6 C747.2,210.6 746.8,209.5 747.6,212.5 C748.4,215.5 748.4,214.1 748.3,216.5 C748.2,218.9 748.9,217.5 747.4,219.6 C745.9,221.7 746.3,220.7 743.8,222.7 C741.3,224.7 741.7,224.0 739.9,225.5 C738.1,227.0 737.7,225.9 738.5,227.3 C739.3,228.7 739.2,228.0 742.4,229.7 C745.6,231.4 744.3,230.6 748.0,232.5 C751.7,234.4 750.3,233.4 753.6,235.3 C756.9,237.2 755.7,236.2 757.8,238.1 C759.9,240.0 759.0,239.1 759.9,240.9 C760.8,242.7 760.6,241.7 760.5,243.4 C760.4,245.1 761.0,244.1 759.6,245.9 C758.2,247.7 759.3,246.8 756.4,248.7 C753.5,250.6 754.5,249.6 750.8,251.5 C747.1,253.4 748.9,252.3 745.2,254.3 C741.5,256.3 743.1,255.3 739.6,257.4 C736.1,259.5 738.0,258.4 734.7,260.6 C731.4,262.8 733.3,261.8 729.8,264.1 C726.3,266.4 727.9,265.3 724.1,267.6 C720.3,269.9 721.8,268.8 718.5,271.1 C715.2,273.4 716.5,272.3 714.3,274.6 C712.1,276.9 713.1,275.5 711.9,278.1 C710.7,280.7 711.3,279.3 710.7,282.3 C710.1,285.3 711.3,284.8 710.2,287.2 C709.1,289.6 709.2,289.4 707.3,289.4 C705.4,289.4 705.5,289.6 704.4,287.2 C703.3,284.8 704.5,285.3 703.9,282.3 C703.3,279.3 703.9,280.7 702.7,278.1 C701.5,275.5 702.5,276.9 700.3,274.6 C698.1,272.3 699.4,273.4 696.1,271.1 C692.8,268.8 694.3,269.9 690.5,267.6 C686.7,265.3 688.3,266.4 684.8,264.1 C681.3,261.8 683.2,262.8 679.9,260.6 C676.6,258.4 678.5,259.5 675.0,257.4 C671.5,255.3 673.1,256.3 669.4,254.3 C665.7,252.3 667.5,253.4 663.8,251.5 C660.1,249.6 661.1,250.6 658.2,248.7 C655.3,246.8 656.4,247.7 655.0,245.9 C653.6,244.1 654.2,245.1 654.1,243.4 C654.0,241.7 653.8,242.7 654.7,240.9 C655.6,239.1 654.7,240.0 656.8,238.1 C658.9,236.2 657.7,237.2 661.0,235.3 C664.3,233.4 662.9,234.4 666.6,232.5 C670.3,230.6 669.0,231.4 672.2,229.7 C675.4,228.0 675.3,228.7 676.1,227.3 C676.9,225.9 676.5,227.0 674.7,225.5 C672.9,224.0 673.3,224.7 670.8,222.7 C668.3,220.7 668.7,221.7 667.2,219.6 C665.7,217.5 666.4,218.9 666.3,216.5 C666.2,214.1 666.2,215.5 667.0,212.5 C667.8,209.5 667.4,210.6 668.7,207.6 C670.0,204.6 668.9,206.2 670.8,203.4 C672.7,200.6 671.7,202.0 674.3,199.2 C676.9,196.4 675.8,197.6 678.5,195.0 C681.2,192.4 680.4,193.8 682.4,191.5 C684.4,189.2 683.5,190.6 684.5,188.0 C685.5,185.4 684.7,186.4 685.5,183.8 C686.3,181.2 685.5,182.7 686.9,180.3 C688.4,178.0 687.4,179.2 689.8,176.8 C692.1,174.3 691.0,175.5 694.0,172.9 C697.0,170.3 696.0,171.7 698.9,169.0 C701.8,166.3 701.0,167.6 702.7,164.8 C704.4,162.0 703.5,164.1 704.1,160.6 C704.7,157.1 703.4,156.9 704.5,154.3 C705.6,151.7 705.4,152.9 707.3,152.9Z" fill="#f43b40" stroke="#000" stroke-width="12.2" stroke-linejoin="round" clip-path="url(#v4)"/><path d="M676.3,206.1 H738.3" stroke="#3a0404" stroke-width="2.0" stroke-dasharray="0.01,5.7" stroke-linecap="round" fill="none"/><path d="M681.8,230.2 H732.8" stroke="#3a0404" stroke-width="2.1" stroke-dasharray="5.2,4.5" fill="none"/><path d="M664.3,244.8 H750.3" stroke="#3a0404" stroke-width="2.0" stroke-dasharray="0.01,5.7" stroke-linecap="round" fill="none"/>
<clipPath id="v5"><path d="M1140.0,165.2 C1141.9,165.2 1141.6,163.7 1142.8,166.7 C1144.0,169.7 1142.7,169.8 1143.5,174.2 C1144.3,178.6 1143.6,176.4 1145.3,180.0 C1147.0,183.6 1146.5,181.4 1148.6,185.0 C1150.7,188.6 1150.1,186.9 1151.5,190.8 C1152.9,194.7 1152.3,192.7 1152.8,196.6 C1153.3,200.5 1153.1,198.9 1153.0,202.5 C1152.9,206.1 1152.5,204.5 1152.4,207.5 C1152.3,210.5 1151.6,209.0 1152.8,211.6 C1154.0,214.2 1153.1,212.9 1156.1,215.4 C1159.1,217.9 1157.7,216.6 1161.9,219.1 C1166.1,221.6 1164.1,220.4 1168.6,222.9 C1173.1,225.4 1170.9,224.1 1175.3,226.6 C1179.7,229.1 1177.7,227.9 1181.9,230.4 C1186.1,232.9 1184.6,231.8 1187.8,234.1 C1191.0,236.4 1189.7,235.2 1191.5,237.4 C1193.3,239.6 1192.9,238.6 1193.2,240.8 C1193.5,243.0 1194.2,241.9 1192.5,243.9 C1190.8,245.9 1192.1,244.8 1188.2,246.9 C1184.3,249.0 1186.0,248.0 1180.8,250.1 C1175.6,252.2 1177.4,251.0 1172.5,253.3 C1167.6,255.6 1168.8,255.0 1166.1,257.0 C1163.4,259.0 1164.1,257.6 1164.4,259.3 C1164.7,261.0 1163.7,259.9 1167.0,262.1 C1170.3,264.3 1169.4,263.5 1174.3,265.8 C1179.2,268.1 1177.4,266.9 1181.7,269.0 C1186.0,271.1 1184.4,270.1 1187.2,272.2 C1190.0,274.3 1189.1,273.4 1190.0,275.4 C1190.9,277.4 1190.9,276.3 1190.0,278.2 C1189.1,280.1 1190.6,278.9 1187.2,280.9 C1183.8,282.9 1185.4,281.9 1179.9,284.2 C1174.4,286.5 1176.5,285.4 1170.7,287.9 C1164.9,290.3 1167.3,288.8 1162.4,291.5 C1157.5,294.2 1159.9,292.4 1155.9,296.1 C1151.9,299.8 1153.0,298.6 1150.4,302.6 C1147.8,306.6 1149.2,304.4 1148.1,308.1 C1147.0,311.8 1147.8,309.6 1147.2,313.6 C1146.6,317.6 1147.2,315.2 1146.3,320.1 C1145.4,325.0 1145.4,323.1 1144.4,328.3 C1143.4,333.5 1143.7,331.5 1143.2,335.7 C1142.7,339.9 1143.9,338.5 1142.8,340.8 C1141.7,343.1 1141.9,342.6 1140.0,342.6 C1138.1,342.6 1138.3,343.1 1137.2,340.8 C1136.1,338.5 1137.3,339.9 1136.8,335.7 C1136.3,331.5 1136.6,333.5 1135.6,328.3 C1134.6,323.1 1134.6,325.0 1133.7,320.1 C1132.8,315.2 1133.4,317.6 1132.8,313.6 C1132.2,309.6 1133.0,311.8 1131.9,308.1 C1130.8,304.4 1132.2,306.6 1129.6,302.6 C1127.0,298.6 1128.1,299.8 1124.1,296.1 C1120.1,292.4 1122.5,294.2 1117.6,291.5 C1112.7,288.8 1115.1,290.3 1109.3,287.9 C1103.5,285.4 1105.6,286.5 1100.1,284.2 C1094.6,281.9 1096.2,282.9 1092.8,280.9 C1089.4,278.9 1090.9,280.1 1090.0,278.2 C1089.1,276.3 1089.1,277.4 1090.0,275.4 C1090.9,273.4 1090.0,274.3 1092.8,272.2 C1095.6,270.1 1094.0,271.1 1098.3,269.0 C1102.6,266.9 1100.8,268.1 1105.7,265.8 C1110.6,263.5 1109.7,264.3 1113.0,262.1 C1116.3,259.9 1115.3,261.0 1115.6,259.3 C1115.9,257.6 1116.6,259.0 1113.9,257.0 C1111.2,255.0 1112.4,255.6 1107.5,253.3 C1102.6,251.0 1104.4,252.2 1099.2,250.1 C1094.0,248.0 1095.7,249.0 1091.8,246.9 C1087.9,244.8 1089.2,245.9 1087.5,243.9 C1085.8,241.9 1086.5,243.0 1086.8,240.8 C1087.1,238.6 1086.7,239.6 1088.5,237.4 C1090.3,235.2 1089.0,236.4 1092.2,234.1 C1095.4,231.8 1093.9,232.9 1098.1,230.4 C1102.3,227.9 1100.3,229.1 1104.7,226.6 C1109.1,224.1 1106.9,225.4 1111.4,222.9 C1115.9,220.4 1113.9,221.6 1118.1,219.1 C1122.3,216.6 1120.9,217.9 1123.9,215.4 C1126.9,212.9 1126.0,214.2 1127.2,211.6 C1128.4,209.0 1127.7,210.5 1127.6,207.5 C1127.5,204.5 1127.1,206.1 1127.0,202.5 C1126.9,198.9 1126.7,200.5 1127.2,196.6 C1127.7,192.7 1127.1,194.7 1128.5,190.8 C1129.9,186.9 1129.3,188.6 1131.4,185.0 C1133.5,181.4 1133.0,183.6 1134.7,180.0 C1136.4,176.4 1135.7,178.6 1136.5,174.2 C1137.3,169.8 1136.0,169.7 1137.2,166.7 C1138.4,163.7 1138.1,165.2 1140.0,165.2Z"/></clipPath><path d="M1140.0,165.2 C1141.9,165.2 1141.6,163.7 1142.8,166.7 C1144.0,169.7 1142.7,169.8 1143.5,174.2 C1144.3,178.6 1143.6,176.4 1145.3,180.0 C1147.0,183.6 1146.5,181.4 1148.6,185.0 C1150.7,188.6 1150.1,186.9 1151.5,190.8 C1152.9,194.7 1152.3,192.7 1152.8,196.6 C1153.3,200.5 1153.1,198.9 1153.0,202.5 C1152.9,206.1 1152.5,204.5 1152.4,207.5 C1152.3,210.5 1151.6,209.0 1152.8,211.6 C1154.0,214.2 1153.1,212.9 1156.1,215.4 C1159.1,217.9 1157.7,216.6 1161.9,219.1 C1166.1,221.6 1164.1,220.4 1168.6,222.9 C1173.1,225.4 1170.9,224.1 1175.3,226.6 C1179.7,229.1 1177.7,227.9 1181.9,230.4 C1186.1,232.9 1184.6,231.8 1187.8,234.1 C1191.0,236.4 1189.7,235.2 1191.5,237.4 C1193.3,239.6 1192.9,238.6 1193.2,240.8 C1193.5,243.0 1194.2,241.9 1192.5,243.9 C1190.8,245.9 1192.1,244.8 1188.2,246.9 C1184.3,249.0 1186.0,248.0 1180.8,250.1 C1175.6,252.2 1177.4,251.0 1172.5,253.3 C1167.6,255.6 1168.8,255.0 1166.1,257.0 C1163.4,259.0 1164.1,257.6 1164.4,259.3 C1164.7,261.0 1163.7,259.9 1167.0,262.1 C1170.3,264.3 1169.4,263.5 1174.3,265.8 C1179.2,268.1 1177.4,266.9 1181.7,269.0 C1186.0,271.1 1184.4,270.1 1187.2,272.2 C1190.0,274.3 1189.1,273.4 1190.0,275.4 C1190.9,277.4 1190.9,276.3 1190.0,278.2 C1189.1,280.1 1190.6,278.9 1187.2,280.9 C1183.8,282.9 1185.4,281.9 1179.9,284.2 C1174.4,286.5 1176.5,285.4 1170.7,287.9 C1164.9,290.3 1167.3,288.8 1162.4,291.5 C1157.5,294.2 1159.9,292.4 1155.9,296.1 C1151.9,299.8 1153.0,298.6 1150.4,302.6 C1147.8,306.6 1149.2,304.4 1148.1,308.1 C1147.0,311.8 1147.8,309.6 1147.2,313.6 C1146.6,317.6 1147.2,315.2 1146.3,320.1 C1145.4,325.0 1145.4,323.1 1144.4,328.3 C1143.4,333.5 1143.7,331.5 1143.2,335.7 C1142.7,339.9 1143.9,338.5 1142.8,340.8 C1141.7,343.1 1141.9,342.6 1140.0,342.6 C1138.1,342.6 1138.3,343.1 1137.2,340.8 C1136.1,338.5 1137.3,339.9 1136.8,335.7 C1136.3,331.5 1136.6,333.5 1135.6,328.3 C1134.6,323.1 1134.6,325.0 1133.7,320.1 C1132.8,315.2 1133.4,317.6 1132.8,313.6 C1132.2,309.6 1133.0,311.8 1131.9,308.1 C1130.8,304.4 1132.2,306.6 1129.6,302.6 C1127.0,298.6 1128.1,299.8 1124.1,296.1 C1120.1,292.4 1122.5,294.2 1117.6,291.5 C1112.7,288.8 1115.1,290.3 1109.3,287.9 C1103.5,285.4 1105.6,286.5 1100.1,284.2 C1094.6,281.9 1096.2,282.9 1092.8,280.9 C1089.4,278.9 1090.9,280.1 1090.0,278.2 C1089.1,276.3 1089.1,277.4 1090.0,275.4 C1090.9,273.4 1090.0,274.3 1092.8,272.2 C1095.6,270.1 1094.0,271.1 1098.3,269.0 C1102.6,266.9 1100.8,268.1 1105.7,265.8 C1110.6,263.5 1109.7,264.3 1113.0,262.1 C1116.3,259.9 1115.3,261.0 1115.6,259.3 C1115.9,257.6 1116.6,259.0 1113.9,257.0 C1111.2,255.0 1112.4,255.6 1107.5,253.3 C1102.6,251.0 1104.4,252.2 1099.2,250.1 C1094.0,248.0 1095.7,249.0 1091.8,246.9 C1087.9,244.8 1089.2,245.9 1087.5,243.9 C1085.8,241.9 1086.5,243.0 1086.8,240.8 C1087.1,238.6 1086.7,239.6 1088.5,237.4 C1090.3,235.2 1089.0,236.4 1092.2,234.1 C1095.4,231.8 1093.9,232.9 1098.1,230.4 C1102.3,227.9 1100.3,229.1 1104.7,226.6 C1109.1,224.1 1106.9,225.4 1111.4,222.9 C1115.9,220.4 1113.9,221.6 1118.1,219.1 C1122.3,216.6 1120.9,217.9 1123.9,215.4 C1126.9,212.9 1126.0,214.2 1127.2,211.6 C1128.4,209.0 1127.7,210.5 1127.6,207.5 C1127.5,204.5 1127.1,206.1 1127.0,202.5 C1126.9,198.9 1126.7,200.5 1127.2,196.6 C1127.7,192.7 1127.1,194.7 1128.5,190.8 C1129.9,186.9 1129.3,188.6 1131.4,185.0 C1133.5,181.4 1133.0,183.6 1134.7,180.0 C1136.4,176.4 1135.7,178.6 1136.5,174.2 C1137.3,169.8 1136.0,169.7 1137.2,166.7 C1138.4,163.7 1138.1,165.2 1140.0,165.2Z" fill="#8c8c8c" stroke="#000" stroke-width="12.2" stroke-linejoin="round" clip-path="url(#v5)"/><path d="M1099.5,234.9 H1180.5" stroke="#161616" stroke-width="2.0" stroke-dasharray="0.01,5.7" stroke-linecap="round" fill="none"/><path d="M1104.0,246.3 H1176.0" stroke="#161616" stroke-width="2.1" stroke-dasharray="5.2,4.5" fill="none"/><path d="M1100.5,275.9 H1179.5" stroke="#161616" stroke-width="2.0" stroke-dasharray="0.01,5.7" stroke-linecap="round" fill="none"/>
<clipPath id="v6"><path d="M1299.6,162.9 C1301.5,162.9 1301.2,160.9 1302.4,164.4 C1303.6,167.9 1302.2,168.1 1303.1,173.3 C1304.0,178.5 1303.6,175.8 1305.1,180.0 C1306.6,184.2 1306.4,181.9 1307.6,185.8 C1308.8,189.7 1308.2,188.0 1308.6,191.6 C1309.0,195.2 1308.2,193.3 1308.9,196.6 C1309.6,199.9 1308.5,198.3 1310.6,201.6 C1312.7,204.9 1311.4,203.4 1315.1,206.6 C1318.8,209.8 1317.1,208.4 1321.8,211.2 C1326.5,214.0 1324.3,212.8 1329.3,215.0 C1334.3,217.2 1332.1,216.0 1336.8,217.9 C1341.5,219.8 1339.2,218.7 1343.4,220.8 C1347.6,222.9 1346.3,221.9 1349.3,224.1 C1352.3,226.3 1351.3,225.2 1352.4,227.4 C1353.5,229.6 1353.4,228.6 1352.6,230.8 C1351.8,233.0 1351.6,231.9 1350.1,234.1 C1348.6,236.3 1348.9,234.9 1348.0,237.4 C1347.1,239.9 1347.4,238.8 1347.4,241.6 C1347.4,244.4 1348.1,243.5 1348.0,245.8 C1347.9,248.1 1348.7,246.4 1347.2,248.5 C1345.7,250.6 1345.8,249.4 1343.5,252.1 C1341.2,254.8 1341.4,254.1 1340.3,256.7 C1339.2,259.3 1339.5,257.4 1340.3,259.9 C1341.1,262.4 1341.4,261.2 1342.6,264.1 C1343.8,267.0 1343.6,265.9 1343.9,268.7 C1344.2,271.5 1344.6,269.6 1343.5,272.4 C1342.4,275.2 1343.5,273.9 1340.7,277.0 C1337.9,280.1 1339.5,278.5 1335.2,281.6 C1330.9,284.7 1333.0,283.1 1327.8,286.2 C1322.6,289.3 1324.4,287.9 1319.5,290.8 C1314.6,293.7 1316.5,292.3 1313.1,294.9 C1309.7,297.5 1310.2,296.0 1309.4,298.6 C1308.6,301.2 1309.4,299.8 1310.8,302.7 C1312.2,305.6 1312.3,304.2 1313.6,307.3 C1314.9,310.4 1314.8,308.8 1314.8,311.9 C1314.8,315.0 1315.2,313.1 1313.6,316.5 C1312.0,319.9 1312.5,318.4 1309.9,322.1 C1307.3,325.8 1307.9,323.9 1305.7,327.6 C1303.5,331.3 1304.3,329.4 1303.4,333.1 C1302.5,336.8 1303.2,336.0 1302.9,338.6 C1302.6,341.2 1303.5,339.6 1302.4,340.8 C1301.3,342.0 1301.5,342.3 1299.6,342.3 C1297.7,342.3 1297.9,342.0 1296.8,340.8 C1295.7,339.6 1296.6,341.2 1296.3,338.6 C1296.0,336.0 1296.7,336.8 1295.8,333.1 C1294.9,329.4 1295.7,331.3 1293.5,327.6 C1291.3,323.9 1291.9,325.8 1289.3,322.1 C1286.7,318.4 1287.2,319.9 1285.6,316.5 C1284.0,313.1 1284.4,315.0 1284.4,311.9 C1284.4,308.8 1284.3,310.4 1285.6,307.3 C1286.9,304.2 1287.0,305.6 1288.4,302.7 C1289.8,299.8 1290.6,301.2 1289.8,298.6 C1289.0,296.0 1289.5,297.5 1286.1,294.9 C1282.7,292.3 1284.6,293.7 1279.7,290.8 C1274.8,287.9 1276.6,289.3 1271.4,286.2 C1266.2,283.1 1268.3,284.7 1264.0,281.6 C1259.7,278.5 1261.3,280.1 1258.5,277.0 C1255.7,273.9 1256.8,275.2 1255.7,272.4 C1254.6,269.6 1255.0,271.5 1255.3,268.7 C1255.6,265.9 1255.4,267.0 1256.6,264.1 C1257.8,261.2 1258.1,262.4 1258.9,259.9 C1259.7,257.4 1260.0,259.3 1258.9,256.7 C1257.8,254.1 1258.0,254.8 1255.7,252.1 C1253.4,249.4 1253.5,250.6 1252.0,248.5 C1250.5,246.4 1251.3,248.1 1251.2,245.8 C1251.1,243.5 1251.8,244.4 1251.8,241.6 C1251.8,238.8 1252.1,239.9 1251.2,237.4 C1250.3,234.9 1250.6,236.3 1249.1,234.1 C1247.6,231.9 1247.4,233.0 1246.6,230.8 C1245.8,228.6 1245.7,229.6 1246.8,227.4 C1247.9,225.2 1246.9,226.3 1249.9,224.1 C1252.9,221.9 1251.6,222.9 1255.8,220.8 C1260.0,218.7 1257.7,219.8 1262.4,217.9 C1267.1,216.0 1264.9,217.2 1269.9,215.0 C1274.9,212.8 1272.7,214.0 1277.4,211.2 C1282.1,208.4 1280.4,209.8 1284.1,206.6 C1287.8,203.4 1286.5,204.9 1288.6,201.6 C1290.7,198.3 1289.6,199.9 1290.3,196.6 C1291.0,193.3 1290.2,195.2 1290.6,191.6 C1291.0,188.0 1290.4,189.7 1291.6,185.8 C1292.8,181.9 1292.6,184.2 1294.1,180.0 C1295.6,175.8 1295.2,178.5 1296.1,173.3 C1297.0,168.1 1295.6,167.9 1296.8,164.4 C1298.0,160.9 1297.7,162.9 1299.6,162.9Z"/></clipPath><path d="M1299.6,162.9 C1301.5,162.9 1301.2,160.9 1302.4,164.4 C1303.6,167.9 1302.2,168.1 1303.1,173.3 C1304.0,178.5 1303.6,175.8 1305.1,180.0 C1306.6,184.2 1306.4,181.9 1307.6,185.8 C1308.8,189.7 1308.2,188.0 1308.6,191.6 C1309.0,195.2 1308.2,193.3 1308.9,196.6 C1309.6,199.9 1308.5,198.3 1310.6,201.6 C1312.7,204.9 1311.4,203.4 1315.1,206.6 C1318.8,209.8 1317.1,208.4 1321.8,211.2 C1326.5,214.0 1324.3,212.8 1329.3,215.0 C1334.3,217.2 1332.1,216.0 1336.8,217.9 C1341.5,219.8 1339.2,218.7 1343.4,220.8 C1347.6,222.9 1346.3,221.9 1349.3,224.1 C1352.3,226.3 1351.3,225.2 1352.4,227.4 C1353.5,229.6 1353.4,228.6 1352.6,230.8 C1351.8,233.0 1351.6,231.9 1350.1,234.1 C1348.6,236.3 1348.9,234.9 1348.0,237.4 C1347.1,239.9 1347.4,238.8 1347.4,241.6 C1347.4,244.4 1348.1,243.5 1348.0,245.8 C1347.9,248.1 1348.7,246.4 1347.2,248.5 C1345.7,250.6 1345.8,249.4 1343.5,252.1 C1341.2,254.8 1341.4,254.1 1340.3,256.7 C1339.2,259.3 1339.5,257.4 1340.3,259.9 C1341.1,262.4 1341.4,261.2 1342.6,264.1 C1343.8,267.0 1343.6,265.9 1343.9,268.7 C1344.2,271.5 1344.6,269.6 1343.5,272.4 C1342.4,275.2 1343.5,273.9 1340.7,277.0 C1337.9,280.1 1339.5,278.5 1335.2,281.6 C1330.9,284.7 1333.0,283.1 1327.8,286.2 C1322.6,289.3 1324.4,287.9 1319.5,290.8 C1314.6,293.7 1316.5,292.3 1313.1,294.9 C1309.7,297.5 1310.2,296.0 1309.4,298.6 C1308.6,301.2 1309.4,299.8 1310.8,302.7 C1312.2,305.6 1312.3,304.2 1313.6,307.3 C1314.9,310.4 1314.8,308.8 1314.8,311.9 C1314.8,315.0 1315.2,313.1 1313.6,316.5 C1312.0,319.9 1312.5,318.4 1309.9,322.1 C1307.3,325.8 1307.9,323.9 1305.7,327.6 C1303.5,331.3 1304.3,329.4 1303.4,333.1 C1302.5,336.8 1303.2,336.0 1302.9,338.6 C1302.6,341.2 1303.5,339.6 1302.4,340.8 C1301.3,342.0 1301.5,342.3 1299.6,342.3 C1297.7,342.3 1297.9,342.0 1296.8,340.8 C1295.7,339.6 1296.6,341.2 1296.3,338.6 C1296.0,336.0 1296.7,336.8 1295.8,333.1 C1294.9,329.4 1295.7,331.3 1293.5,327.6 C1291.3,323.9 1291.9,325.8 1289.3,322.1 C1286.7,318.4 1287.2,319.9 1285.6,316.5 C1284.0,313.1 1284.4,315.0 1284.4,311.9 C1284.4,308.8 1284.3,310.4 1285.6,307.3 C1286.9,304.2 1287.0,305.6 1288.4,302.7 C1289.8,299.8 1290.6,301.2 1289.8,298.6 C1289.0,296.0 1289.5,297.5 1286.1,294.9 C1282.7,292.3 1284.6,293.7 1279.7,290.8 C1274.8,287.9 1276.6,289.3 1271.4,286.2 C1266.2,283.1 1268.3,284.7 1264.0,281.6 C1259.7,278.5 1261.3,280.1 1258.5,277.0 C1255.7,273.9 1256.8,275.2 1255.7,272.4 C1254.6,269.6 1255.0,271.5 1255.3,268.7 C1255.6,265.9 1255.4,267.0 1256.6,264.1 C1257.8,261.2 1258.1,262.4 1258.9,259.9 C1259.7,257.4 1260.0,259.3 1258.9,256.7 C1257.8,254.1 1258.0,254.8 1255.7,252.1 C1253.4,249.4 1253.5,250.6 1252.0,248.5 C1250.5,246.4 1251.3,248.1 1251.2,245.8 C1251.1,243.5 1251.8,244.4 1251.8,241.6 C1251.8,238.8 1252.1,239.9 1251.2,237.4 C1250.3,234.9 1250.6,236.3 1249.1,234.1 C1247.6,231.9 1247.4,233.0 1246.6,230.8 C1245.8,228.6 1245.7,229.6 1246.8,227.4 C1247.9,225.2 1246.9,226.3 1249.9,224.1 C1252.9,221.9 1251.6,222.9 1255.8,220.8 C1260.0,218.7 1257.7,219.8 1262.4,217.9 C1267.1,216.0 1264.9,217.2 1269.9,215.0 C1274.9,212.8 1272.7,214.0 1277.4,211.2 C1282.1,208.4 1280.4,209.8 1284.1,206.6 C1287.8,203.4 1286.5,204.9 1288.6,201.6 C1290.7,198.3 1289.6,199.9 1290.3,196.6 C1291.0,193.3 1290.2,195.2 1290.6,191.6 C1291.0,188.0 1290.4,189.7 1291.6,185.8 C1292.8,181.9 1292.6,184.2 1294.1,180.0 C1295.6,175.8 1295.2,178.5 1296.1,173.3 C1297.0,168.1 1295.6,167.9 1296.8,164.4 C1298.0,160.9 1297.7,162.9 1299.6,162.9Z" fill="#8c8c8c" stroke="#000" stroke-width="12.2" stroke-linejoin="round" clip-path="url(#v6)"/><path d="M1252.8,228.9 H1346.4" stroke="#161616" stroke-width="2.0" stroke-dasharray="0.01,5.7" stroke-linecap="round" fill="none"/><path d="M1259.1,247.1 H1340.1" stroke="#161616" stroke-width="2.1" stroke-dasharray="5.2,4.5" fill="none"/><path d="M1261.6,271.5 H1337.6" stroke="#161616" stroke-width="2.0" stroke-dasharray="0.01,5.7" stroke-linecap="round" fill="none"/>
<clipPath id="v7"><path d="M1459.0,232.0 C1460.9,232.0 1460.6,231.1 1461.8,233.4 C1463.0,235.7 1461.6,235.7 1462.5,239.0 C1463.4,242.3 1462.2,240.4 1464.6,243.2 C1467.0,246.0 1465.7,244.6 1469.8,247.4 C1473.9,250.2 1471.9,248.9 1476.8,251.6 C1481.7,254.3 1479.3,252.9 1484.5,255.5 C1489.7,258.1 1487.1,256.8 1492.3,259.4 C1497.5,262.0 1495.3,260.8 1500.0,263.2 C1504.7,265.6 1502.8,264.4 1506.3,266.7 C1509.8,269.0 1508.5,267.9 1510.5,270.2 C1512.5,272.5 1511.9,271.4 1512.2,273.7 C1512.5,276.0 1512.8,274.7 1511.5,277.2 C1510.2,279.7 1511.3,278.4 1508.4,281.1 C1505.5,283.8 1506.8,282.6 1502.8,285.3 C1498.8,288.0 1500.5,286.7 1496.5,289.2 C1492.5,291.7 1493.7,290.5 1490.9,292.7 C1488.1,294.9 1489.4,293.6 1488.0,295.8 C1486.7,298.0 1487.4,297.1 1486.8,299.3 C1486.2,301.5 1486.2,300.2 1486.3,302.5 C1486.4,304.8 1486.2,303.5 1487.0,306.1 C1487.8,308.7 1487.9,307.5 1488.8,310.3 C1489.6,313.1 1489.5,311.9 1489.6,314.5 C1489.7,317.1 1490.0,315.4 1489.1,318.0 C1488.2,320.6 1488.8,319.5 1487.0,322.3 C1485.2,325.1 1486.0,323.7 1483.8,326.5 C1481.6,329.3 1482.9,327.9 1480.3,330.7 C1477.7,333.5 1479.1,332.1 1476.1,334.9 C1473.1,337.7 1474.2,336.3 1471.2,339.1 C1468.2,341.9 1469.4,340.5 1467.0,343.3 C1464.6,346.1 1465.4,344.7 1463.9,347.5 C1462.4,350.3 1463.1,348.7 1462.5,351.7 C1461.9,354.7 1462.3,354.1 1462.1,356.6 C1461.9,359.1 1462.8,357.9 1461.8,359.2 C1460.8,360.5 1460.9,360.6 1459.0,360.6 C1457.1,360.6 1457.2,360.5 1456.2,359.2 C1455.2,357.9 1456.1,359.1 1455.9,356.6 C1455.7,354.1 1456.1,354.7 1455.5,351.7 C1454.9,348.7 1455.6,350.3 1454.1,347.5 C1452.6,344.7 1453.4,346.1 1451.0,343.3 C1448.6,340.5 1449.8,341.9 1446.8,339.1 C1443.8,336.3 1444.9,337.7 1441.9,334.9 C1438.9,332.1 1440.3,333.5 1437.7,330.7 C1435.1,327.9 1436.4,329.3 1434.2,326.5 C1432.0,323.7 1432.8,325.1 1431.0,322.3 C1429.2,319.5 1429.8,320.6 1428.9,318.0 C1428.0,315.4 1428.3,317.1 1428.4,314.5 C1428.5,311.9 1428.4,313.1 1429.2,310.3 C1430.1,307.5 1430.2,308.7 1431.0,306.1 C1431.8,303.5 1431.6,304.8 1431.7,302.5 C1431.8,300.2 1431.8,301.5 1431.2,299.3 C1430.6,297.1 1431.3,298.0 1430.0,295.8 C1428.6,293.6 1429.9,294.9 1427.1,292.7 C1424.3,290.5 1425.5,291.7 1421.5,289.2 C1417.5,286.7 1419.2,288.0 1415.2,285.3 C1411.2,282.6 1412.5,283.8 1409.6,281.1 C1406.7,278.4 1407.8,279.7 1406.5,277.2 C1405.2,274.7 1405.5,276.0 1405.8,273.7 C1406.1,271.4 1405.5,272.5 1407.5,270.2 C1409.5,267.9 1408.2,269.0 1411.7,266.7 C1415.2,264.4 1413.3,265.6 1418.0,263.2 C1422.7,260.8 1420.5,262.0 1425.7,259.4 C1430.9,256.8 1428.3,258.1 1433.5,255.5 C1438.7,252.9 1436.3,254.3 1441.2,251.6 C1446.1,248.9 1444.1,250.2 1448.2,247.4 C1452.3,244.6 1451.0,246.0 1453.4,243.2 C1455.8,240.4 1454.6,242.3 1455.5,239.0 C1456.4,235.7 1455.0,235.7 1456.2,233.4 C1457.4,231.1 1457.1,232.0 1459.0,232.0Z"/></clipPath><path d="M1459.0,232.0 C1460.9,232.0 1460.6,231.1 1461.8,233.4 C1463.0,235.7 1461.6,235.7 1462.5,239.0 C1463.4,242.3 1462.2,240.4 1464.6,243.2 C1467.0,246.0 1465.7,244.6 1469.8,247.4 C1473.9,250.2 1471.9,248.9 1476.8,251.6 C1481.7,254.3 1479.3,252.9 1484.5,255.5 C1489.7,258.1 1487.1,256.8 1492.3,259.4 C1497.5,262.0 1495.3,260.8 1500.0,263.2 C1504.7,265.6 1502.8,264.4 1506.3,266.7 C1509.8,269.0 1508.5,267.9 1510.5,270.2 C1512.5,272.5 1511.9,271.4 1512.2,273.7 C1512.5,276.0 1512.8,274.7 1511.5,277.2 C1510.2,279.7 1511.3,278.4 1508.4,281.1 C1505.5,283.8 1506.8,282.6 1502.8,285.3 C1498.8,288.0 1500.5,286.7 1496.5,289.2 C1492.5,291.7 1493.7,290.5 1490.9,292.7 C1488.1,294.9 1489.4,293.6 1488.0,295.8 C1486.7,298.0 1487.4,297.1 1486.8,299.3 C1486.2,301.5 1486.2,300.2 1486.3,302.5 C1486.4,304.8 1486.2,303.5 1487.0,306.1 C1487.8,308.7 1487.9,307.5 1488.8,310.3 C1489.6,313.1 1489.5,311.9 1489.6,314.5 C1489.7,317.1 1490.0,315.4 1489.1,318.0 C1488.2,320.6 1488.8,319.5 1487.0,322.3 C1485.2,325.1 1486.0,323.7 1483.8,326.5 C1481.6,329.3 1482.9,327.9 1480.3,330.7 C1477.7,333.5 1479.1,332.1 1476.1,334.9 C1473.1,337.7 1474.2,336.3 1471.2,339.1 C1468.2,341.9 1469.4,340.5 1467.0,343.3 C1464.6,346.1 1465.4,344.7 1463.9,347.5 C1462.4,350.3 1463.1,348.7 1462.5,351.7 C1461.9,354.7 1462.3,354.1 1462.1,356.6 C1461.9,359.1 1462.8,357.9 1461.8,359.2 C1460.8,360.5 1460.9,360.6 1459.0,360.6 C1457.1,360.6 1457.2,360.5 1456.2,359.2 C1455.2,357.9 1456.1,359.1 1455.9,356.6 C1455.7,354.1 1456.1,354.7 1455.5,351.7 C1454.9,348.7 1455.6,350.3 1454.1,347.5 C1452.6,344.7 1453.4,346.1 1451.0,343.3 C1448.6,340.5 1449.8,341.9 1446.8,339.1 C1443.8,336.3 1444.9,337.7 1441.9,334.9 C1438.9,332.1 1440.3,333.5 1437.7,330.7 C1435.1,327.9 1436.4,329.3 1434.2,326.5 C1432.0,323.7 1432.8,325.1 1431.0,322.3 C1429.2,319.5 1429.8,320.6 1428.9,318.0 C1428.0,315.4 1428.3,317.1 1428.4,314.5 C1428.5,311.9 1428.4,313.1 1429.2,310.3 C1430.1,307.5 1430.2,308.7 1431.0,306.1 C1431.8,303.5 1431.6,304.8 1431.7,302.5 C1431.8,300.2 1431.8,301.5 1431.2,299.3 C1430.6,297.1 1431.3,298.0 1430.0,295.8 C1428.6,293.6 1429.9,294.9 1427.1,292.7 C1424.3,290.5 1425.5,291.7 1421.5,289.2 C1417.5,286.7 1419.2,288.0 1415.2,285.3 C1411.2,282.6 1412.5,283.8 1409.6,281.1 C1406.7,278.4 1407.8,279.7 1406.5,277.2 C1405.2,274.7 1405.5,276.0 1405.8,273.7 C1406.1,271.4 1405.5,272.5 1407.5,270.2 C1409.5,267.9 1408.2,269.0 1411.7,266.7 C1415.2,264.4 1413.3,265.6 1418.0,263.2 C1422.7,260.8 1420.5,262.0 1425.7,259.4 C1430.9,256.8 1428.3,258.1 1433.5,255.5 C1438.7,252.9 1436.3,254.3 1441.2,251.6 C1446.1,248.9 1444.1,250.2 1448.2,247.4 C1452.3,244.6 1451.0,246.0 1453.4,243.2 C1455.8,240.4 1454.6,242.3 1455.5,239.0 C1456.4,235.7 1455.0,235.7 1456.2,233.4 C1457.4,231.1 1457.1,232.0 1459.0,232.0Z" fill="#f43b40" stroke="#000" stroke-width="12.2" stroke-linejoin="round" clip-path="url(#v7)"/><path d="M1417.5,272.5 H1500.5" stroke="#3a0404" stroke-width="2.0" stroke-dasharray="0.01,5.7" stroke-linecap="round" fill="none"/><path d="M1427.0,286.0 H1491.0" stroke="#3a0404" stroke-width="2.1" stroke-dasharray="5.2,4.5" fill="none"/><path d="M1436.0,312.0 H1482.0" stroke="#3a0404" stroke-width="2.0" stroke-dasharray="0.01,5.7" stroke-linecap="round" fill="none"/>
<clipPath id="v8"><path d="M1618.3,269.4 C1620.2,269.4 1619.9,268.6 1621.1,270.8 C1622.3,273.0 1621.1,272.9 1622.0,276.1 C1622.9,279.3 1623.0,277.7 1623.8,280.4 C1624.6,283.1 1624.4,281.6 1624.4,284.1 C1624.4,286.6 1624.5,285.4 1623.8,287.8 C1623.1,290.2 1622.3,289.2 1622.3,291.4 C1622.3,293.6 1622.1,292.2 1623.8,294.5 C1625.5,296.8 1624.8,295.7 1627.5,298.2 C1630.2,300.7 1628.9,299.4 1631.8,301.9 C1634.7,304.4 1633.6,303.4 1636.1,305.6 C1638.5,307.8 1636.9,306.8 1639.1,308.6 C1641.4,310.4 1640.3,309.5 1642.8,311.1 C1645.2,312.7 1644.5,311.7 1646.5,313.5 C1648.5,315.3 1647.9,314.7 1648.7,316.6 C1649.5,318.5 1648.6,317.7 1649.0,319.1 C1649.4,320.5 1648.1,319.8 1649.9,320.9 C1651.7,322.0 1650.9,321.3 1654.5,322.4 C1658.1,323.5 1656.6,323.0 1660.6,324.3 C1664.6,325.6 1663.2,325.0 1666.6,326.4 C1670.0,327.8 1668.9,327.2 1670.8,328.4 C1672.7,329.6 1671.9,328.9 1672.2,330.0 C1672.5,331.1 1672.9,330.4 1671.7,331.7 C1670.5,333.0 1671.7,332.4 1668.6,333.8 C1665.5,335.2 1666.6,334.5 1662.5,335.9 C1658.4,337.4 1660.4,336.5 1656.3,338.1 C1652.2,339.8 1653.9,338.9 1650.2,340.9 C1646.5,342.9 1648.4,342.0 1645.3,344.2 C1642.2,346.4 1643.9,345.2 1641.0,347.6 C1638.1,350.0 1639.8,348.8 1636.7,351.3 C1633.6,353.8 1634.9,352.7 1631.8,355.0 C1628.7,357.3 1629.8,355.9 1627.5,358.3 C1625.2,360.7 1626.0,359.5 1625.0,362.3 C1624.0,365.1 1624.8,363.7 1624.4,366.6 C1624.0,369.5 1624.4,368.0 1623.8,370.9 C1623.2,373.8 1623.3,372.5 1622.6,375.2 C1621.9,377.9 1622.2,376.5 1621.7,378.9 C1621.2,381.3 1622.2,380.7 1621.1,382.3 C1620.0,383.9 1620.2,383.8 1618.3,383.8 C1616.4,383.8 1616.6,383.9 1615.5,382.3 C1614.4,380.7 1615.4,381.3 1614.9,378.9 C1614.4,376.5 1614.7,377.9 1614.0,375.2 C1613.3,372.5 1613.4,373.8 1612.8,370.9 C1612.2,368.0 1612.6,369.5 1612.2,366.6 C1611.8,363.7 1612.6,365.1 1611.6,362.3 C1610.6,359.5 1611.4,360.7 1609.1,358.3 C1606.8,355.9 1607.9,357.3 1604.8,355.0 C1601.7,352.7 1603.0,353.8 1599.9,351.3 C1596.8,348.8 1598.5,350.0 1595.6,347.6 C1592.7,345.2 1594.4,346.4 1591.3,344.2 C1588.2,342.0 1590.1,342.9 1586.4,340.9 C1582.7,338.9 1584.4,339.8 1580.3,338.1 C1576.2,336.5 1578.2,337.4 1574.1,335.9 C1570.0,334.5 1571.1,335.2 1568.0,333.8 C1564.9,332.4 1566.1,333.0 1564.9,331.7 C1563.7,330.4 1564.1,331.1 1564.4,330.0 C1564.7,328.9 1563.9,329.6 1565.8,328.4 C1567.7,327.2 1566.6,327.8 1570.0,326.4 C1573.4,325.0 1572.0,325.6 1576.0,324.3 C1580.0,323.0 1578.5,323.5 1582.1,322.4 C1585.7,321.3 1584.9,322.0 1586.7,320.9 C1588.5,319.8 1587.2,320.5 1587.6,319.1 C1588.0,317.7 1587.1,318.5 1587.9,316.6 C1588.7,314.7 1588.1,315.3 1590.1,313.5 C1592.1,311.7 1591.3,312.7 1593.8,311.1 C1596.2,309.5 1595.2,310.4 1597.5,308.6 C1599.7,306.8 1598.0,307.8 1600.5,305.6 C1603.0,303.4 1601.9,304.4 1604.8,301.9 C1607.7,299.4 1606.4,300.7 1609.1,298.2 C1611.8,295.7 1611.1,296.8 1612.8,294.5 C1614.5,292.2 1614.3,293.6 1614.3,291.4 C1614.3,289.2 1613.5,290.2 1612.8,287.8 C1612.1,285.4 1612.2,286.6 1612.2,284.1 C1612.2,281.6 1612.0,283.1 1612.8,280.4 C1613.6,277.7 1613.7,279.3 1614.6,276.1 C1615.5,272.9 1614.3,273.0 1615.5,270.8 C1616.7,268.6 1616.4,269.4 1618.3,269.4Z"/></clipPath><path d="M1618.3,269.4 C1620.2,269.4 1619.9,268.6 1621.1,270.8 C1622.3,273.0 1621.1,272.9 1622.0,276.1 C1622.9,279.3 1623.0,277.7 1623.8,280.4 C1624.6,283.1 1624.4,281.6 1624.4,284.1 C1624.4,286.6 1624.5,285.4 1623.8,287.8 C1623.1,290.2 1622.3,289.2 1622.3,291.4 C1622.3,293.6 1622.1,292.2 1623.8,294.5 C1625.5,296.8 1624.8,295.7 1627.5,298.2 C1630.2,300.7 1628.9,299.4 1631.8,301.9 C1634.7,304.4 1633.6,303.4 1636.1,305.6 C1638.5,307.8 1636.9,306.8 1639.1,308.6 C1641.4,310.4 1640.3,309.5 1642.8,311.1 C1645.2,312.7 1644.5,311.7 1646.5,313.5 C1648.5,315.3 1647.9,314.7 1648.7,316.6 C1649.5,318.5 1648.6,317.7 1649.0,319.1 C1649.4,320.5 1648.1,319.8 1649.9,320.9 C1651.7,322.0 1650.9,321.3 1654.5,322.4 C1658.1,323.5 1656.6,323.0 1660.6,324.3 C1664.6,325.6 1663.2,325.0 1666.6,326.4 C1670.0,327.8 1668.9,327.2 1670.8,328.4 C1672.7,329.6 1671.9,328.9 1672.2,330.0 C1672.5,331.1 1672.9,330.4 1671.7,331.7 C1670.5,333.0 1671.7,332.4 1668.6,333.8 C1665.5,335.2 1666.6,334.5 1662.5,335.9 C1658.4,337.4 1660.4,336.5 1656.3,338.1 C1652.2,339.8 1653.9,338.9 1650.2,340.9 C1646.5,342.9 1648.4,342.0 1645.3,344.2 C1642.2,346.4 1643.9,345.2 1641.0,347.6 C1638.1,350.0 1639.8,348.8 1636.7,351.3 C1633.6,353.8 1634.9,352.7 1631.8,355.0 C1628.7,357.3 1629.8,355.9 1627.5,358.3 C1625.2,360.7 1626.0,359.5 1625.0,362.3 C1624.0,365.1 1624.8,363.7 1624.4,366.6 C1624.0,369.5 1624.4,368.0 1623.8,370.9 C1623.2,373.8 1623.3,372.5 1622.6,375.2 C1621.9,377.9 1622.2,376.5 1621.7,378.9 C1621.2,381.3 1622.2,380.7 1621.1,382.3 C1620.0,383.9 1620.2,383.8 1618.3,383.8 C1616.4,383.8 1616.6,383.9 1615.5,382.3 C1614.4,380.7 1615.4,381.3 1614.9,378.9 C1614.4,376.5 1614.7,377.9 1614.0,375.2 C1613.3,372.5 1613.4,373.8 1612.8,370.9 C1612.2,368.0 1612.6,369.5 1612.2,366.6 C1611.8,363.7 1612.6,365.1 1611.6,362.3 C1610.6,359.5 1611.4,360.7 1609.1,358.3 C1606.8,355.9 1607.9,357.3 1604.8,355.0 C1601.7,352.7 1603.0,353.8 1599.9,351.3 C1596.8,348.8 1598.5,350.0 1595.6,347.6 C1592.7,345.2 1594.4,346.4 1591.3,344.2 C1588.2,342.0 1590.1,342.9 1586.4,340.9 C1582.7,338.9 1584.4,339.8 1580.3,338.1 C1576.2,336.5 1578.2,337.4 1574.1,335.9 C1570.0,334.5 1571.1,335.2 1568.0,333.8 C1564.9,332.4 1566.1,333.0 1564.9,331.7 C1563.7,330.4 1564.1,331.1 1564.4,330.0 C1564.7,328.9 1563.9,329.6 1565.8,328.4 C1567.7,327.2 1566.6,327.8 1570.0,326.4 C1573.4,325.0 1572.0,325.6 1576.0,324.3 C1580.0,323.0 1578.5,323.5 1582.1,322.4 C1585.7,321.3 1584.9,322.0 1586.7,320.9 C1588.5,319.8 1587.2,320.5 1587.6,319.1 C1588.0,317.7 1587.1,318.5 1587.9,316.6 C1588.7,314.7 1588.1,315.3 1590.1,313.5 C1592.1,311.7 1591.3,312.7 1593.8,311.1 C1596.2,309.5 1595.2,310.4 1597.5,308.6 C1599.7,306.8 1598.0,307.8 1600.5,305.6 C1603.0,303.4 1601.9,304.4 1604.8,301.9 C1607.7,299.4 1606.4,300.7 1609.1,298.2 C1611.8,295.7 1611.1,296.8 1612.8,294.5 C1614.5,292.2 1614.3,293.6 1614.3,291.4 C1614.3,289.2 1613.5,290.2 1612.8,287.8 C1612.1,285.4 1612.2,286.6 1612.2,284.1 C1612.2,281.6 1612.0,283.1 1612.8,280.4 C1613.6,277.7 1613.7,279.3 1614.6,276.1 C1615.5,272.9 1614.3,273.0 1615.5,270.8 C1616.7,268.6 1616.4,269.4 1618.3,269.4Z" fill="#f43b40" stroke="#000" stroke-width="12.2" stroke-linejoin="round" clip-path="url(#v8)"/><path d="M1595.3,318.1 H1641.3" stroke="#3a0404" stroke-width="2.0" stroke-dasharray="0.01,5.7" stroke-linecap="round" fill="none"/><path d="M1576.8,328.9 H1659.8" stroke="#3a0404" stroke-width="2.1" stroke-dasharray="5.2,4.5" fill="none"/><path d="M1595.3,338.9 H1641.3" stroke="#3a0404" stroke-width="2.0" stroke-dasharray="0.01,5.7" stroke-linecap="round" fill="none"/>
<clipPath id="v9"><path d="M225.2,849.0 C227.1,849.0 226.8,847.7 228.0,850.4 C229.2,853.1 227.9,852.9 228.7,857.0 C229.5,861.1 229.2,858.9 230.5,862.6 C231.8,866.3 231.2,864.7 232.7,868.2 C234.2,871.7 233.2,869.9 235.1,873.2 C237.0,876.5 236.2,875.1 238.3,878.1 C240.4,881.1 239.2,879.7 241.4,882.3 C243.6,884.9 243.1,883.5 244.9,885.8 C246.7,888.1 246.1,887.0 246.9,889.3 C247.7,891.6 247.0,890.5 247.2,892.8 C247.4,895.1 246.3,894.2 247.4,896.3 C248.5,898.4 247.6,897.2 250.5,899.1 C253.4,901.0 252.1,900.0 256.1,901.9 C260.1,903.8 258.3,902.8 262.5,904.7 C266.7,906.6 265.0,905.6 268.8,907.5 C272.6,909.4 271.2,908.4 273.9,910.3 C276.6,912.2 275.4,911.2 276.8,913.1 C278.2,915.0 277.8,913.8 278.2,916.0 C278.6,918.2 278.2,917.1 277.9,919.7 C277.6,922.3 278.4,921.1 277.2,923.9 C276.0,926.7 277.0,925.5 274.4,928.1 C271.8,930.7 272.1,929.2 269.5,931.6 C266.9,934.0 267.8,932.8 266.7,935.2 C265.6,937.6 267.0,936.4 266.3,938.7 C265.6,941.0 267.0,939.9 264.6,942.2 C262.2,944.5 263.2,943.5 259.0,945.7 C254.8,947.9 256.1,946.7 251.9,948.8 C247.7,950.9 249.6,949.8 246.3,952.0 C243.0,954.2 244.9,952.9 242.1,955.5 C239.3,958.1 240.9,956.9 237.9,959.7 C234.9,962.5 235.7,961.3 233.0,963.9 C230.3,966.5 231.3,964.8 229.8,967.4 C228.3,970.0 229.0,968.3 228.4,971.6 C227.8,974.9 229.1,974.9 228.0,977.2 C226.9,979.5 227.1,978.6 225.2,978.6 C223.3,978.6 223.5,979.5 222.4,977.2 C221.3,974.9 222.6,974.9 222.0,971.6 C221.4,968.3 222.1,970.0 220.6,967.4 C219.1,964.8 220.1,966.5 217.4,963.9 C214.7,961.3 215.5,962.5 212.5,959.7 C209.5,956.9 211.1,958.1 208.3,955.5 C205.5,952.9 207.4,954.2 204.1,952.0 C200.8,949.8 202.7,950.9 198.5,948.8 C194.3,946.7 195.6,947.9 191.4,945.7 C187.2,943.5 188.2,944.5 185.8,942.2 C183.4,939.9 184.8,941.0 184.1,938.7 C183.4,936.4 184.8,937.6 183.7,935.2 C182.6,932.8 183.5,934.0 180.9,931.6 C178.3,929.2 178.6,930.7 176.0,928.1 C173.4,925.5 174.4,926.7 173.2,923.9 C172.0,921.1 172.8,922.3 172.5,919.7 C172.2,917.1 171.8,918.2 172.2,916.0 C172.6,913.8 172.2,915.0 173.6,913.1 C175.0,911.2 173.8,912.2 176.5,910.3 C179.2,908.4 177.8,909.4 181.6,907.5 C185.4,905.6 183.7,906.6 187.9,904.7 C192.1,902.8 190.3,903.8 194.3,901.9 C198.3,900.0 197.0,901.0 199.9,899.1 C202.8,897.2 201.9,898.4 203.0,896.3 C204.1,894.2 203.0,895.1 203.2,892.8 C203.4,890.5 202.7,891.6 203.5,889.3 C204.3,887.0 203.7,888.1 205.5,885.8 C207.3,883.5 206.8,884.9 209.0,882.3 C211.2,879.7 210.0,881.1 212.1,878.1 C214.2,875.1 213.4,876.5 215.3,873.2 C217.2,869.9 216.2,871.7 217.7,868.2 C219.2,864.7 218.6,866.3 219.9,862.6 C221.2,858.9 220.9,861.1 221.7,857.0 C222.5,852.9 221.2,853.1 222.4,850.4 C223.6,847.7 223.3,849.0 225.2,849.0Z"/></clipPath><path d="M225.2,849.0 C227.1,849.0 226.8,847.7 228.0,850.4 C229.2,853.1 227.9,852.9 228.7,857.0 C229.5,861.1 229.2,858.9 230.5,862.6 C231.8,866.3 231.2,864.7 232.7,868.2 C234.2,871.7 233.2,869.9 235.1,873.2 C237.0,876.5 236.2,875.1 238.3,878.1 C240.4,881.1 239.2,879.7 241.4,882.3 C243.6,884.9 243.1,883.5 244.9,885.8 C246.7,888.1 246.1,887.0 246.9,889.3 C247.7,891.6 247.0,890.5 247.2,892.8 C247.4,895.1 246.3,894.2 247.4,896.3 C248.5,898.4 247.6,897.2 250.5,899.1 C253.4,901.0 252.1,900.0 256.1,901.9 C260.1,903.8 258.3,902.8 262.5,904.7 C266.7,906.6 265.0,905.6 268.8,907.5 C272.6,909.4 271.2,908.4 273.9,910.3 C276.6,912.2 275.4,911.2 276.8,913.1 C278.2,915.0 277.8,913.8 278.2,916.0 C278.6,918.2 278.2,917.1 277.9,919.7 C277.6,922.3 278.4,921.1 277.2,923.9 C276.0,926.7 277.0,925.5 274.4,928.1 C271.8,930.7 272.1,929.2 269.5,931.6 C266.9,934.0 267.8,932.8 266.7,935.2 C265.6,937.6 267.0,936.4 266.3,938.7 C265.6,941.0 267.0,939.9 264.6,942.2 C262.2,944.5 263.2,943.5 259.0,945.7 C254.8,947.9 256.1,946.7 251.9,948.8 C247.7,950.9 249.6,949.8 246.3,952.0 C243.0,954.2 244.9,952.9 242.1,955.5 C239.3,958.1 240.9,956.9 237.9,959.7 C234.9,962.5 235.7,961.3 233.0,963.9 C230.3,966.5 231.3,964.8 229.8,967.4 C228.3,970.0 229.0,968.3 228.4,971.6 C227.8,974.9 229.1,974.9 228.0,977.2 C226.9,979.5 227.1,978.6 225.2,978.6 C223.3,978.6 223.5,979.5 222.4,977.2 C221.3,974.9 222.6,974.9 222.0,971.6 C221.4,968.3 222.1,970.0 220.6,967.4 C219.1,964.8 220.1,966.5 217.4,963.9 C214.7,961.3 215.5,962.5 212.5,959.7 C209.5,956.9 211.1,958.1 208.3,955.5 C205.5,952.9 207.4,954.2 204.1,952.0 C200.8,949.8 202.7,950.9 198.5,948.8 C194.3,946.7 195.6,947.9 191.4,945.7 C187.2,943.5 188.2,944.5 185.8,942.2 C183.4,939.9 184.8,941.0 184.1,938.7 C183.4,936.4 184.8,937.6 183.7,935.2 C182.6,932.8 183.5,934.0 180.9,931.6 C178.3,929.2 178.6,930.7 176.0,928.1 C173.4,925.5 174.4,926.7 173.2,923.9 C172.0,921.1 172.8,922.3 172.5,919.7 C172.2,917.1 171.8,918.2 172.2,916.0 C172.6,913.8 172.2,915.0 173.6,913.1 C175.0,911.2 173.8,912.2 176.5,910.3 C179.2,908.4 177.8,909.4 181.6,907.5 C185.4,905.6 183.7,906.6 187.9,904.7 C192.1,902.8 190.3,903.8 194.3,901.9 C198.3,900.0 197.0,901.0 199.9,899.1 C202.8,897.2 201.9,898.4 203.0,896.3 C204.1,894.2 203.0,895.1 203.2,892.8 C203.4,890.5 202.7,891.6 203.5,889.3 C204.3,887.0 203.7,888.1 205.5,885.8 C207.3,883.5 206.8,884.9 209.0,882.3 C211.2,879.7 210.0,881.1 212.1,878.1 C214.2,875.1 213.4,876.5 215.3,873.2 C217.2,869.9 216.2,871.7 217.7,868.2 C219.2,864.7 218.6,866.3 219.9,862.6 C221.2,858.9 220.9,861.1 221.7,857.0 C222.5,852.9 221.2,853.1 222.4,850.4 C223.6,847.7 223.3,849.0 225.2,849.0Z" fill="#8c8c8c" stroke="#000" stroke-width="12.2" stroke-linejoin="round" clip-path="url(#v9)"/><path d="M199.2,906.3 H251.2" stroke="#161616" stroke-width="2.0" stroke-dasharray="0.01,5.7" stroke-linecap="round" fill="none"/><path d="M179.2,922.9 H271.2" stroke="#161616" stroke-width="2.1" stroke-dasharray="5.2,4.5" fill="none"/><path d="M190.4,937.0 H260.0" stroke="#161616" stroke-width="2.0" stroke-dasharray="0.01,5.7" stroke-linecap="round" fill="none"/>
<clipPath id="v10"><path d="M384.6,828.3 C386.5,828.3 386.2,826.8 387.4,829.7 C388.6,832.6 387.3,832.7 388.2,837.0 C389.1,841.3 389.3,838.8 390.2,842.5 C391.1,846.2 390.8,844.3 390.8,848.0 C390.8,851.7 391.1,850.1 390.2,853.5 C389.3,856.9 388.7,855.1 388.2,858.3 C387.7,861.5 387.4,859.6 388.6,863.0 C389.8,866.4 389.0,864.8 391.8,868.5 C394.6,872.2 393.4,870.6 396.9,874.0 C400.4,877.4 399.5,875.9 402.4,878.8 C405.3,881.7 404.0,880.1 405.6,882.7 C407.2,885.3 406.2,884.1 407.2,886.7 C408.2,889.3 406.3,888.2 408.7,890.6 C411.1,893.0 409.8,891.8 414.3,893.8 C418.8,895.8 417.2,894.7 422.2,896.5 C427.2,898.3 425.1,897.4 429.4,899.3 C433.7,901.2 432.4,900.2 435.2,902.2 C438.0,904.2 437.1,903.5 437.9,905.4 C438.7,907.3 439.1,906.1 437.5,908.0 C435.9,909.9 436.7,909.3 433.2,911.2 C429.7,913.1 430.3,912.2 426.9,913.6 C423.5,915.0 422.9,914.1 422.9,915.5 C422.9,916.9 424.0,915.9 426.9,917.9 C429.8,919.9 429.4,919.0 431.6,921.4 C433.8,923.8 433.2,922.6 433.6,925.0 C434.0,927.4 433.7,926.0 432.8,928.5 C431.9,931.0 432.2,929.9 430.8,932.5 C429.4,935.1 430.9,933.5 428.5,936.4 C426.1,939.3 427.9,938.2 423.7,941.2 C419.5,944.2 421.3,942.9 415.8,945.5 C410.3,948.1 412.7,946.6 407.2,949.0 C401.7,951.4 403.6,950.2 399.3,952.6 C395.0,955.0 396.3,953.6 394.2,956.1 C392.1,958.6 393.7,957.2 393.0,960.1 C392.3,963.0 393.1,961.4 392.2,964.8 C391.3,968.2 391.5,966.6 390.2,970.3 C388.9,974.0 389.1,972.2 388.2,975.9 C387.3,979.6 387.9,978.7 387.6,981.4 C387.3,984.1 388.3,982.6 387.3,983.9 C386.3,985.2 386.4,985.3 384.6,985.3 C382.8,985.3 382.9,985.2 381.9,983.9 C380.9,982.6 381.9,984.1 381.6,981.4 C381.3,978.7 381.9,979.6 381.0,975.9 C380.1,972.2 380.3,974.0 379.0,970.3 C377.7,966.6 377.9,968.2 377.0,964.8 C376.1,961.4 376.9,963.0 376.2,960.1 C375.5,957.2 377.1,958.6 375.0,956.1 C372.9,953.6 374.2,955.0 369.9,952.6 C365.6,950.2 367.5,951.4 362.0,949.0 C356.5,946.6 358.9,948.1 353.4,945.5 C347.9,942.9 349.7,944.2 345.5,941.2 C341.3,938.2 343.1,939.3 340.7,936.4 C338.3,933.5 339.8,935.1 338.4,932.5 C337.0,929.9 337.3,931.0 336.4,928.5 C335.5,926.0 335.2,927.4 335.6,925.0 C336.0,922.6 335.4,923.8 337.6,921.4 C339.8,919.0 339.4,919.9 342.3,917.9 C345.2,915.9 346.3,916.9 346.3,915.5 C346.3,914.1 345.7,915.0 342.3,913.6 C338.9,912.2 339.5,913.1 336.0,911.2 C332.5,909.3 333.3,909.9 331.7,908.0 C330.1,906.1 330.5,907.3 331.3,905.4 C332.1,903.5 331.2,904.2 334.0,902.2 C336.8,900.2 335.5,901.2 339.8,899.3 C344.1,897.4 342.0,898.3 347.0,896.5 C352.0,894.7 350.4,895.8 354.9,893.8 C359.4,891.8 358.1,893.0 360.5,890.6 C362.9,888.2 361.0,889.3 362.0,886.7 C363.0,884.1 362.0,885.3 363.6,882.7 C365.2,880.1 363.9,881.7 366.8,878.8 C369.7,875.9 368.8,877.4 372.3,874.0 C375.8,870.6 374.6,872.2 377.4,868.5 C380.2,864.8 379.4,866.4 380.6,863.0 C381.8,859.6 381.5,861.5 381.0,858.3 C380.5,855.1 379.9,856.9 379.0,853.5 C378.1,850.1 378.4,851.7 378.4,848.0 C378.4,844.3 378.1,846.2 379.0,842.5 C379.9,838.8 380.1,841.3 381.0,837.0 C381.9,832.7 380.6,832.6 381.8,829.7 C383.0,826.8 382.7,828.3 384.6,828.3Z"/></clipPath><path d="M384.6,828.3 C386.5,828.3 386.2,826.8 387.4,829.7 C388.6,832.6 387.3,832.7 388.2,837.0 C389.1,841.3 389.3,838.8 390.2,842.5 C391.1,846.2 390.8,844.3 390.8,848.0 C390.8,851.7 391.1,850.1 390.2,853.5 C389.3,856.9 388.7,855.1 388.2,858.3 C387.7,861.5 387.4,859.6 388.6,863.0 C389.8,866.4 389.0,864.8 391.8,868.5 C394.6,872.2 393.4,870.6 396.9,874.0 C400.4,877.4 399.5,875.9 402.4,878.8 C405.3,881.7 404.0,880.1 405.6,882.7 C407.2,885.3 406.2,884.1 407.2,886.7 C408.2,889.3 406.3,888.2 408.7,890.6 C411.1,893.0 409.8,891.8 414.3,893.8 C418.8,895.8 417.2,894.7 422.2,896.5 C427.2,898.3 425.1,897.4 429.4,899.3 C433.7,901.2 432.4,900.2 435.2,902.2 C438.0,904.2 437.1,903.5 437.9,905.4 C438.7,907.3 439.1,906.1 437.5,908.0 C435.9,909.9 436.7,909.3 433.2,911.2 C429.7,913.1 430.3,912.2 426.9,913.6 C423.5,915.0 422.9,914.1 422.9,915.5 C422.9,916.9 424.0,915.9 426.9,917.9 C429.8,919.9 429.4,919.0 431.6,921.4 C433.8,923.8 433.2,922.6 433.6,925.0 C434.0,927.4 433.7,926.0 432.8,928.5 C431.9,931.0 432.2,929.9 430.8,932.5 C429.4,935.1 430.9,933.5 428.5,936.4 C426.1,939.3 427.9,938.2 423.7,941.2 C419.5,944.2 421.3,942.9 415.8,945.5 C410.3,948.1 412.7,946.6 407.2,949.0 C401.7,951.4 403.6,950.2 399.3,952.6 C395.0,955.0 396.3,953.6 394.2,956.1 C392.1,958.6 393.7,957.2 393.0,960.1 C392.3,963.0 393.1,961.4 392.2,964.8 C391.3,968.2 391.5,966.6 390.2,970.3 C388.9,974.0 389.1,972.2 388.2,975.9 C387.3,979.6 387.9,978.7 387.6,981.4 C387.3,984.1 388.3,982.6 387.3,983.9 C386.3,985.2 386.4,985.3 384.6,985.3 C382.8,985.3 382.9,985.2 381.9,983.9 C380.9,982.6 381.9,984.1 381.6,981.4 C381.3,978.7 381.9,979.6 381.0,975.9 C380.1,972.2 380.3,974.0 379.0,970.3 C377.7,966.6 377.9,968.2 377.0,964.8 C376.1,961.4 376.9,963.0 376.2,960.1 C375.5,957.2 377.1,958.6 375.0,956.1 C372.9,953.6 374.2,955.0 369.9,952.6 C365.6,950.2 367.5,951.4 362.0,949.0 C356.5,946.6 358.9,948.1 353.4,945.5 C347.9,942.9 349.7,944.2 345.5,941.2 C341.3,938.2 343.1,939.3 340.7,936.4 C338.3,933.5 339.8,935.1 338.4,932.5 C337.0,929.9 337.3,931.0 336.4,928.5 C335.5,926.0 335.2,927.4 335.6,925.0 C336.0,922.6 335.4,923.8 337.6,921.4 C339.8,919.0 339.4,919.9 342.3,917.9 C345.2,915.9 346.3,916.9 346.3,915.5 C346.3,914.1 345.7,915.0 342.3,913.6 C338.9,912.2 339.5,913.1 336.0,911.2 C332.5,909.3 333.3,909.9 331.7,908.0 C330.1,906.1 330.5,907.3 331.3,905.4 C332.1,903.5 331.2,904.2 334.0,902.2 C336.8,900.2 335.5,901.2 339.8,899.3 C344.1,897.4 342.0,898.3 347.0,896.5 C352.0,894.7 350.4,895.8 354.9,893.8 C359.4,891.8 358.1,893.0 360.5,890.6 C362.9,888.2 361.0,889.3 362.0,886.7 C363.0,884.1 362.0,885.3 363.6,882.7 C365.2,880.1 363.9,881.7 366.8,878.8 C369.7,875.9 368.8,877.4 372.3,874.0 C375.8,870.6 374.6,872.2 377.4,868.5 C380.2,864.8 379.4,866.4 380.6,863.0 C381.8,859.6 381.5,861.5 381.0,858.3 C380.5,855.1 379.9,856.9 379.0,853.5 C378.1,850.1 378.4,851.7 378.4,848.0 C378.4,844.3 378.1,846.2 379.0,842.5 C379.9,838.8 380.1,841.3 381.0,837.0 C381.9,832.7 380.6,832.6 381.8,829.7 C383.0,826.8 382.7,828.3 384.6,828.3Z" fill="#8c8c8c" stroke="#000" stroke-width="12.2" stroke-linejoin="round" clip-path="url(#v10)"/><path d="M347.1,903.2 H422.1" stroke="#161616" stroke-width="2.0" stroke-dasharray="0.01,5.7" stroke-linecap="round" fill="none"/><path d="M352.6,920.0 H416.6" stroke="#161616" stroke-width="2.1" stroke-dasharray="5.2,4.5" fill="none"/><path d="M346.6,933.6 H422.6" stroke="#161616" stroke-width="2.0" stroke-dasharray="0.01,5.7" stroke-linecap="round" fill="none"/>
<clipPath id="v11"><path d="M544.0,828.8 C545.9,828.8 545.7,828.0 546.8,830.2 C547.9,832.4 546.2,832.4 547.4,835.3 C548.6,838.2 547.3,836.8 550.4,839.0 C553.5,841.2 552.7,840.0 556.6,842.0 C560.5,844.0 558.9,843.0 562.1,845.1 C565.3,847.2 564.3,846.2 566.1,848.2 C567.9,850.2 567.4,849.2 567.6,851.2 C567.8,853.2 567.9,852.2 566.7,854.3 C565.5,856.4 565.3,855.6 563.9,857.4 C562.5,859.2 561.6,858.2 562.4,859.8 C563.2,861.4 563.2,860.5 566.4,862.3 C569.6,864.1 568.2,863.1 571.9,865.3 C575.6,867.5 573.9,866.5 577.4,869.0 C580.9,871.5 579.2,870.2 582.3,872.7 C585.4,875.2 584.5,874.2 586.6,876.4 C588.7,878.6 588.0,877.4 588.5,879.4 C589.0,881.4 587.4,880.4 588.2,882.5 C589.0,884.6 588.8,883.7 590.9,885.6 C593.0,887.5 592.6,886.5 594.6,888.3 C596.6,890.1 595.9,889.4 596.8,890.9 C597.7,892.4 597.3,891.4 597.2,892.9 C597.1,894.4 597.7,893.4 596.4,895.4 C595.1,897.4 595.6,896.5 593.4,898.8 C591.2,901.1 592.6,899.9 589.7,902.2 C586.8,904.5 588.5,903.6 584.8,905.6 C581.1,907.6 583.2,906.6 578.7,908.3 C574.2,910.0 575.8,909.2 571.3,910.8 C566.8,912.4 568.7,911.4 565.2,913.2 C561.7,915.0 562.8,914.2 560.9,916.3 C559.0,918.4 559.8,917.4 559.6,919.4 C559.4,921.4 560.3,920.4 560.4,922.4 C560.5,924.4 560.9,923.2 559.9,925.5 C558.9,927.8 559.6,926.5 557.5,929.2 C555.4,931.9 556.1,930.6 553.5,933.5 C550.9,936.4 551.7,934.9 549.8,937.8 C547.9,940.7 548.6,939.3 547.7,942.1 C546.8,944.9 547.4,943.5 547.0,946.3 C546.7,949.1 547.8,948.6 546.8,950.5 C545.8,952.4 545.9,951.9 544.0,951.9 C542.1,951.9 542.2,952.4 541.2,950.5 C540.2,948.6 541.3,949.1 541.0,946.3 C540.6,943.5 541.2,944.9 540.3,942.1 C539.4,939.3 540.1,940.7 538.2,937.8 C536.3,934.9 537.1,936.4 534.5,933.5 C531.9,930.6 532.6,931.9 530.5,929.2 C528.4,926.5 529.1,927.8 528.1,925.5 C527.1,923.2 527.5,924.4 527.6,922.4 C527.7,920.4 528.6,921.4 528.4,919.4 C528.2,917.4 529.0,918.4 527.1,916.3 C525.2,914.2 526.3,915.0 522.8,913.2 C519.3,911.4 521.2,912.4 516.7,910.8 C512.2,909.2 513.8,910.0 509.3,908.3 C504.8,906.6 506.9,907.6 503.2,905.6 C499.5,903.6 501.2,904.5 498.3,902.2 C495.4,899.9 496.8,901.1 494.6,898.8 C492.4,896.5 492.9,897.4 491.6,895.4 C490.3,893.4 490.9,894.4 490.8,892.9 C490.7,891.4 490.3,892.4 491.2,890.9 C492.1,889.4 491.4,890.1 493.4,888.3 C495.4,886.5 495.0,887.5 497.1,885.6 C499.2,883.7 499.0,884.6 499.8,882.5 C500.6,880.4 499.0,881.4 499.5,879.4 C500.0,877.4 499.3,878.6 501.4,876.4 C503.5,874.2 502.6,875.2 505.7,872.7 C508.8,870.2 507.1,871.5 510.6,869.0 C514.1,866.5 512.4,867.5 516.1,865.3 C519.8,863.1 518.4,864.1 521.6,862.3 C524.8,860.5 524.8,861.4 525.6,859.8 C526.4,858.2 525.5,859.2 524.1,857.4 C522.7,855.6 522.5,856.4 521.3,854.3 C520.1,852.2 520.2,853.2 520.4,851.2 C520.6,849.2 520.1,850.2 521.9,848.2 C523.7,846.2 522.7,847.2 525.9,845.1 C529.1,843.0 527.5,844.0 531.4,842.0 C535.3,840.0 534.5,841.2 537.6,839.0 C540.7,836.8 539.4,838.2 540.6,835.3 C541.8,832.4 540.1,832.4 541.2,830.2 C542.3,828.0 542.1,828.8 544.0,828.8Z"/></clipPath><path d="M544.0,828.8 C545.9,828.8 545.7,828.0 546.8,830.2 C547.9,832.4 546.2,832.4 547.4,835.3 C548.6,838.2 547.3,836.8 550.4,839.0 C553.5,841.2 552.7,840.0 556.6,842.0 C560.5,844.0 558.9,843.0 562.1,845.1 C565.3,847.2 564.3,846.2 566.1,848.2 C567.9,850.2 567.4,849.2 567.6,851.2 C567.8,853.2 567.9,852.2 566.7,854.3 C565.5,856.4 565.3,855.6 563.9,857.4 C562.5,859.2 561.6,858.2 562.4,859.8 C563.2,861.4 563.2,860.5 566.4,862.3 C569.6,864.1 568.2,863.1 571.9,865.3 C575.6,867.5 573.9,866.5 577.4,869.0 C580.9,871.5 579.2,870.2 582.3,872.7 C585.4,875.2 584.5,874.2 586.6,876.4 C588.7,878.6 588.0,877.4 588.5,879.4 C589.0,881.4 587.4,880.4 588.2,882.5 C589.0,884.6 588.8,883.7 590.9,885.6 C593.0,887.5 592.6,886.5 594.6,888.3 C596.6,890.1 595.9,889.4 596.8,890.9 C597.7,892.4 597.3,891.4 597.2,892.9 C597.1,894.4 597.7,893.4 596.4,895.4 C595.1,897.4 595.6,896.5 593.4,898.8 C591.2,901.1 592.6,899.9 589.7,902.2 C586.8,904.5 588.5,903.6 584.8,905.6 C581.1,907.6 583.2,906.6 578.7,908.3 C574.2,910.0 575.8,909.2 571.3,910.8 C566.8,912.4 568.7,911.4 565.2,913.2 C561.7,915.0 562.8,914.2 560.9,916.3 C559.0,918.4 559.8,917.4 559.6,919.4 C559.4,921.4 560.3,920.4 560.4,922.4 C560.5,924.4 560.9,923.2 559.9,925.5 C558.9,927.8 559.6,926.5 557.5,929.2 C555.4,931.9 556.1,930.6 553.5,933.5 C550.9,936.4 551.7,934.9 549.8,937.8 C547.9,940.7 548.6,939.3 547.7,942.1 C546.8,944.9 547.4,943.5 547.0,946.3 C546.7,949.1 547.8,948.6 546.8,950.5 C545.8,952.4 545.9,951.9 544.0,951.9 C542.1,951.9 542.2,952.4 541.2,950.5 C540.2,948.6 541.3,949.1 541.0,946.3 C540.6,943.5 541.2,944.9 540.3,942.1 C539.4,939.3 540.1,940.7 538.2,937.8 C536.3,934.9 537.1,936.4 534.5,933.5 C531.9,930.6 532.6,931.9 530.5,929.2 C528.4,926.5 529.1,927.8 528.1,925.5 C527.1,923.2 527.5,924.4 527.6,922.4 C527.7,920.4 528.6,921.4 528.4,919.4 C528.2,917.4 529.0,918.4 527.1,916.3 C525.2,914.2 526.3,915.0 522.8,913.2 C519.3,911.4 521.2,912.4 516.7,910.8 C512.2,909.2 513.8,910.0 509.3,908.3 C504.8,906.6 506.9,907.6 503.2,905.6 C499.5,903.6 501.2,904.5 498.3,902.2 C495.4,899.9 496.8,901.1 494.6,898.8 C492.4,896.5 492.9,897.4 491.6,895.4 C490.3,893.4 490.9,894.4 490.8,892.9 C490.7,891.4 490.3,892.4 491.2,890.9 C492.1,889.4 491.4,890.1 493.4,888.3 C495.4,886.5 495.0,887.5 497.1,885.6 C499.2,883.7 499.0,884.6 499.8,882.5 C500.6,880.4 499.0,881.4 499.5,879.4 C500.0,877.4 499.3,878.6 501.4,876.4 C503.5,874.2 502.6,875.2 505.7,872.7 C508.8,870.2 507.1,871.5 510.6,869.0 C514.1,866.5 512.4,867.5 516.1,865.3 C519.8,863.1 518.4,864.1 521.6,862.3 C524.8,860.5 524.8,861.4 525.6,859.8 C526.4,858.2 525.5,859.2 524.1,857.4 C522.7,855.6 522.5,856.4 521.3,854.3 C520.1,852.2 520.2,853.2 520.4,851.2 C520.6,849.2 520.1,850.2 521.9,848.2 C523.7,846.2 522.7,847.2 525.9,845.1 C529.1,843.0 527.5,844.0 531.4,842.0 C535.3,840.0 534.5,841.2 537.6,839.0 C540.7,836.8 539.4,838.2 540.6,835.3 C541.8,832.4 540.1,832.4 541.2,830.2 C542.3,828.0 542.1,828.8 544.0,828.8Z" fill="#f43b40" stroke="#000" stroke-width="12.2" stroke-linejoin="round" clip-path="url(#v11)"/><path d="M513.5,875.8 H574.5" stroke="#3a0404" stroke-width="2.0" stroke-dasharray="0.01,5.7" stroke-linecap="round" fill="none"/><path d="M501.5,891.1 H586.5" stroke="#3a0404" stroke-width="2.1" stroke-dasharray="5.2,4.5" fill="none"/><path d="M511.0,903.0 H577.0" stroke="#3a0404" stroke-width="2.0" stroke-dasharray="0.01,5.7" stroke-linecap="round" fill="none"/>
<clipPath id="v12"><path d="M703.3,753.9 C705.2,753.9 704.8,752.3 706.1,755.3 C707.4,758.3 706.1,758.3 707.1,763.0 C708.1,767.7 708.4,765.4 709.2,769.3 C710.0,773.2 709.6,771.1 709.6,774.8 C709.6,778.5 710.0,776.6 709.2,780.3 C708.4,784.0 708.1,781.9 707.2,785.9 C706.3,789.9 706.8,788.5 706.6,792.2 C706.4,795.9 706.3,794.0 706.6,796.9 C706.9,799.8 705.8,797.9 707.6,800.8 C709.4,803.7 708.2,802.4 712.0,805.6 C715.8,808.8 714.1,807.4 719.1,810.3 C724.1,813.2 721.7,811.7 726.9,814.2 C732.1,816.7 729.5,815.4 734.8,817.8 C740.1,820.2 738.0,818.9 742.7,821.3 C747.4,823.7 745.6,822.5 749.0,824.9 C752.4,827.3 751.0,826.0 753.0,828.4 C755.0,830.8 753.9,829.4 755.0,832.0 C756.1,834.6 756.0,833.3 756.3,836.1 C756.6,838.9 756.9,837.7 755.9,840.5 C754.9,843.3 756.2,842.0 753.3,844.5 C750.4,847.0 751.2,845.8 747.1,848.0 C743.0,850.2 744.1,849.3 741.0,851.0 C737.9,852.7 737.6,851.4 737.9,853.2 C738.2,855.0 738.8,854.0 741.9,856.3 C745.0,858.6 744.5,857.7 747.1,860.2 C749.7,862.7 748.8,861.5 749.6,863.7 C750.4,865.9 750.4,864.6 749.6,866.8 C748.8,869.0 750.0,867.7 747.1,870.3 C744.2,872.9 745.7,871.8 741.0,874.7 C736.3,877.6 738.4,876.2 733.1,879.1 C727.8,882.0 730.2,880.6 725.2,883.5 C720.2,886.4 721.7,884.9 718.2,887.8 C714.7,890.7 716.0,889.3 714.7,892.2 C713.4,895.1 714.7,893.7 714.3,896.6 C713.9,899.5 714.5,897.8 713.6,901.0 C712.7,904.2 713.3,902.4 711.6,906.2 C709.9,910.0 710.2,908.6 708.6,912.4 C707.0,916.2 707.6,914.4 706.8,917.6 C706.0,920.8 706.6,920.0 706.3,922.0 C706.0,924.0 707.0,922.7 706.0,923.7 C705.0,924.7 705.1,925.1 703.3,925.1 C701.5,925.1 701.6,924.7 700.6,923.7 C699.6,922.7 700.6,924.0 700.3,922.0 C700.0,920.0 700.6,920.8 699.8,917.6 C699.0,914.4 699.6,916.2 698.0,912.4 C696.4,908.6 696.7,910.0 695.0,906.2 C693.3,902.4 693.9,904.2 693.0,901.0 C692.1,897.8 692.7,899.5 692.3,896.6 C691.9,893.7 693.2,895.1 691.9,892.2 C690.6,889.3 691.9,890.7 688.4,887.8 C684.9,884.9 686.4,886.4 681.4,883.5 C676.4,880.6 678.8,882.0 673.5,879.1 C668.2,876.2 670.3,877.6 665.6,874.7 C660.9,871.8 662.4,872.9 659.5,870.3 C656.6,867.7 657.8,869.0 657.0,866.8 C656.2,864.6 656.2,865.9 657.0,863.7 C657.8,861.5 656.9,862.7 659.5,860.2 C662.1,857.7 661.6,858.6 664.7,856.3 C667.8,854.0 668.4,855.0 668.7,853.2 C669.0,851.4 668.7,852.7 665.6,851.0 C662.5,849.3 663.6,850.2 659.5,848.0 C655.4,845.8 656.2,847.0 653.3,844.5 C650.4,842.0 651.7,843.3 650.7,840.5 C649.7,837.7 650.0,838.9 650.3,836.1 C650.6,833.3 650.5,834.6 651.6,832.0 C652.7,829.4 651.6,830.8 653.6,828.4 C655.6,826.0 654.2,827.3 657.6,824.9 C661.0,822.5 659.2,823.7 663.9,821.3 C668.6,818.9 666.5,820.2 671.8,817.8 C677.1,815.4 674.5,816.7 679.7,814.2 C684.9,811.7 682.5,813.2 687.5,810.3 C692.5,807.4 690.8,808.8 694.6,805.6 C698.4,802.4 697.2,803.7 699.0,800.8 C700.8,797.9 699.7,799.8 700.0,796.9 C700.3,794.0 700.2,795.9 700.0,792.2 C699.8,788.5 700.3,789.9 699.4,785.9 C698.5,781.9 698.2,784.0 697.4,780.3 C696.6,776.6 697.0,778.5 697.0,774.8 C697.0,771.1 696.6,773.2 697.4,769.3 C698.2,765.4 698.5,767.7 699.5,763.0 C700.5,758.3 699.2,758.3 700.5,755.3 C701.8,752.3 701.4,753.9 703.3,753.9Z"/></clipPath><path d="M703.3,753.9 C705.2,753.9 704.8,752.3 706.1,755.3 C707.4,758.3 706.1,758.3 707.1,763.0 C708.1,767.7 708.4,765.4 709.2,769.3 C710.0,773.2 709.6,771.1 709.6,774.8 C709.6,778.5 710.0,776.6 709.2,780.3 C708.4,784.0 708.1,781.9 707.2,785.9 C706.3,789.9 706.8,788.5 706.6,792.2 C706.4,795.9 706.3,794.0 706.6,796.9 C706.9,799.8 705.8,797.9 707.6,800.8 C709.4,803.7 708.2,802.4 712.0,805.6 C715.8,808.8 714.1,807.4 719.1,810.3 C724.1,813.2 721.7,811.7 726.9,814.2 C732.1,816.7 729.5,815.4 734.8,817.8 C740.1,820.2 738.0,818.9 742.7,821.3 C747.4,823.7 745.6,822.5 749.0,824.9 C752.4,827.3 751.0,826.0 753.0,828.4 C755.0,830.8 753.9,829.4 755.0,832.0 C756.1,834.6 756.0,833.3 756.3,836.1 C756.6,838.9 756.9,837.7 755.9,840.5 C754.9,843.3 756.2,842.0 753.3,844.5 C750.4,847.0 751.2,845.8 747.1,848.0 C743.0,850.2 744.1,849.3 741.0,851.0 C737.9,852.7 737.6,851.4 737.9,853.2 C738.2,855.0 738.8,854.0 741.9,856.3 C745.0,858.6 744.5,857.7 747.1,860.2 C749.7,862.7 748.8,861.5 749.6,863.7 C750.4,865.9 750.4,864.6 749.6,866.8 C748.8,869.0 750.0,867.7 747.1,870.3 C744.2,872.9 745.7,871.8 741.0,874.7 C736.3,877.6 738.4,876.2 733.1,879.1 C727.8,882.0 730.2,880.6 725.2,883.5 C720.2,886.4 721.7,884.9 718.2,887.8 C714.7,890.7 716.0,889.3 714.7,892.2 C713.4,895.1 714.7,893.7 714.3,896.6 C713.9,899.5 714.5,897.8 713.6,901.0 C712.7,904.2 713.3,902.4 711.6,906.2 C709.9,910.0 710.2,908.6 708.6,912.4 C707.0,916.2 707.6,914.4 706.8,917.6 C706.0,920.8 706.6,920.0 706.3,922.0 C706.0,924.0 707.0,922.7 706.0,923.7 C705.0,924.7 705.1,925.1 703.3,925.1 C701.5,925.1 701.6,924.7 700.6,923.7 C699.6,922.7 700.6,924.0 700.3,922.0 C700.0,920.0 700.6,920.8 699.8,917.6 C699.0,914.4 699.6,916.2 698.0,912.4 C696.4,908.6 696.7,910.0 695.0,906.2 C693.3,902.4 693.9,904.2 693.0,901.0 C692.1,897.8 692.7,899.5 692.3,896.6 C691.9,893.7 693.2,895.1 691.9,892.2 C690.6,889.3 691.9,890.7 688.4,887.8 C684.9,884.9 686.4,886.4 681.4,883.5 C676.4,880.6 678.8,882.0 673.5,879.1 C668.2,876.2 670.3,877.6 665.6,874.7 C660.9,871.8 662.4,872.9 659.5,870.3 C656.6,867.7 657.8,869.0 657.0,866.8 C656.2,864.6 656.2,865.9 657.0,863.7 C657.8,861.5 656.9,862.7 659.5,860.2 C662.1,857.7 661.6,858.6 664.7,856.3 C667.8,854.0 668.4,855.0 668.7,853.2 C669.0,851.4 668.7,852.7 665.6,851.0 C662.5,849.3 663.6,850.2 659.5,848.0 C655.4,845.8 656.2,847.0 653.3,844.5 C650.4,842.0 651.7,843.3 650.7,840.5 C649.7,837.7 650.0,838.9 650.3,836.1 C650.6,833.3 650.5,834.6 651.6,832.0 C652.7,829.4 651.6,830.8 653.6,828.4 C655.6,826.0 654.2,827.3 657.6,824.9 C661.0,822.5 659.2,823.7 663.9,821.3 C668.6,818.9 666.5,820.2 671.8,817.8 C677.1,815.4 674.5,816.7 679.7,814.2 C684.9,811.7 682.5,813.2 687.5,810.3 C692.5,807.4 690.8,808.8 694.6,805.6 C698.4,802.4 697.2,803.7 699.0,800.8 C700.8,797.9 699.7,799.8 700.0,796.9 C700.3,794.0 700.2,795.9 700.0,792.2 C699.8,788.5 700.3,789.9 699.4,785.9 C698.5,781.9 698.2,784.0 697.4,780.3 C696.6,776.6 697.0,778.5 697.0,774.8 C697.0,771.1 696.6,773.2 697.4,769.3 C698.2,765.4 698.5,767.7 699.5,763.0 C700.5,758.3 699.2,758.3 700.5,755.3 C701.8,752.3 701.4,753.9 703.3,753.9Z" fill="#f43b40" stroke="#000" stroke-width="12.2" stroke-linejoin="round" clip-path="url(#v12)"/><path d="M659.8,831.6 H746.8" stroke="#3a0404" stroke-width="2.0" stroke-dasharray="0.01,5.7" stroke-linecap="round" fill="none"/><path d="M664.8,845.6 H741.8" stroke="#3a0404" stroke-width="2.1" stroke-dasharray="5.2,4.5" fill="none"/><path d="M664.8,866.7 H741.8" stroke="#3a0404" stroke-width="2.0" stroke-dasharray="0.01,5.7" stroke-linecap="round" fill="none"/>
</svg>
</body></html>
